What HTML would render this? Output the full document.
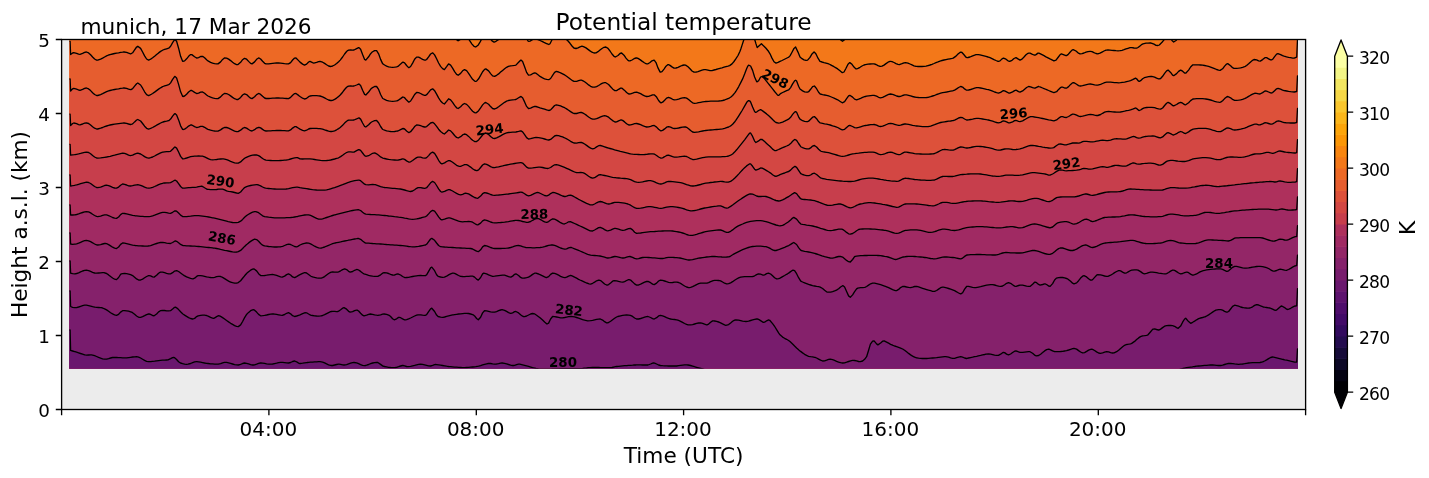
<!DOCTYPE html>
<html lang="en"><head><meta charset="utf-8"><title>Potential temperature</title>
<style>html,body{margin:0;padding:0;background:#fff}body{width:1429px;height:478px;overflow:hidden}</style>
</head><body>
<svg width="1429" height="478" viewBox="0 0 1429 478" style="display:block">
<rect width="1429" height="478" fill="#fff"/>
<defs><clipPath id="dc"><rect x="69.4" y="39.5" width="1228.6" height="328.9"/></clipPath></defs>
<rect x="61.6" y="39.5" width="1244.0" height="370.0" fill="#ececec"/>
<g clip-path="url(#dc)" stroke="#000" stroke-width="1.33" stroke-linejoin="round">
<rect x="63.400000000000006" y="33.5" width="1240.6" height="340.9" fill="#f37819" stroke="none"/>
<path d="M63.4,8L70.1,8L70,20 72,20.7 74,21.4 76,22 78,22.6 80,23.1 82,23.6 84,24 86,24.4 88,24.6 90,24.8 92,24.9 94,24.8 96,24.7 98,24.4 100,24 102,23.5 104,23 106,22.5 108,21.9 110,21.3 112,20.7 114,20.1 116,19.5 118,18.9 120,18.3 122,17.6 124,17 126,16.3 128,15.7 130,15.1 132,14.4 134,13.8 136,13.2 138,12.6 140,12 142,11.4 144,10.9 146,10.3 148,9.8 150,9.2 152,8.7 154,8.2 156,7.7 158,7.3 160,6.8 162,6.4 164,6 166,5.6 168,5.2 170,4.8 172,4.5 174,4.2 175,4 176,4.8 178,10.7 180,18.7 182,24.9 183,26 184,26.2 186,26.5 188,26.8 190,27.1 192,27.4 194,27.6 196,27.8 198,28.1 200,28.2 202,28.4 204,28.6 206,28.7 208,28.8 210,28.9 212,29 214,29 216,29 218,29 220,29 222,29 224,28.9 226,28.9 228,28.9 230,28.8 232,28.8 234,28.8 236,28.7 238,28.7 240,28.7 242,28.6 244,28.6 246,28.6 248,28.5 250,28.5 252,28.5 254,28.4 256,28.4 258,28.3 260,28.3 262,28.2 264,28.2 266,28.2 268,28.1 270,28.1 272,28 274,27.9 276,27.9 278,27.8 280,27.8 282,27.7 284,27.6 286,27.6 288,27.5 290,27.4 292,27.3 294,27.3 296,27.2 298,27.1 300,27 302,26.9 304,26.7 306,26.4 308,26 310,25.6 312,25.1 314,24.6 316,24.1 318,23.5 320,22.9 322,22.2 324,21.5 326,20.9 328,20.2 330,19.5 332,18.8 334,18.1 336,17.5 338,16.8 340,16.2 342,15.6 344,15.1 346,14.6 348,14.2 350,13.8 352,13.5 354,13.3 356,13.1 358,13 360,13 362,13.3 364,14.1 366,15.3 368,16.8 370,18.5 372,20.4 374,22.3 376,24.1 378,25.9 380,27.4 382,28.5 383,29 384,29.4 386,30.1 388,30.7 390,31.2 392,31.6 394,32 396,32.3 398,32.5 400,32.7 402,32.8 404,32.9 406,33 408,33 410,33 412,32.6 414,31.5 416,30 418,28 420,25.8 422,23.7 424,21.6 426,19.8 428,18.4 430,17.7 432,17.7 433,18 434,18.9 436,22.4 438,27 440,31.1 440.6,32 442,33.6 444,35.1 444.4,35.2 446,33.5 448,29.9 448.6,29.5 450,30.1 452,32.7 454,36.1 456,39.3 458,40.8 458.2,40.8 460,39.7 462,37.1 464,35.3 464.5,35.2 466,35.8 468,38 470,41.1 472,44.1 474,46.3 475.7,47 478,45.3 480,42.1 482,38.4 484,35.5 485.8,34.5 488,35.8 490,38.4 492,40.9 494,42.1 494.6,42 496,41.3 498,39.9 500,38.3 502,36.5 504,34.8 506,33.3 508,32.2 508.4,32 510,31.6 512,31.3 514,31.1 515.9,30.7 518,28.7 520,26.3 521,25.7 522,26.3 524,30.9 526,37 528,41 528.5,41.3 530,41.1 532,40 534,38.8 536,38.8 538,39.6 540,40.5 542,41.4 544,42.4 546,43.3 548,44.2 548.8,44.5 550,43.7 552,39.7 553,38 554,36.7 556,34.4 557,34 558,34.1 560,35 562,36.3 563,37 564,37.7 566,39.2 567.6,40.5 570,43.3 572,46 573.9,48 576,48.5 578,47.8 580,46.8 582,46.2 582.7,46.3 584,46.8 586,47.9 588,49.4 590,50.9 592,52.2 594,53 596,52.8 598,51.7 600,50.1 602,48.5 604,47.3 605.8,47 608,48.4 610,51 612,54 614,56.3 615.3,57 618,55.5 620,53.5 621.6,53 624,55.2 626,58.1 628,60.4 629,60.9 630,60.9 632,60 634,58.7 636,58 636.7,58 638,58.4 640,59.6 642,61.1 644,62.5 646,63.7 646.7,63.9 648,63.8 650,62.5 652,60.8 654,60.1 654.2,60.1 656,62.6 658,67.9 660,71.9 660.5,72.2 662,71.6 664,69.1 666,66.2 668,64.6 668.5,64.6 670,65.4 672,66.9 674,68.1 674.3,68.1 676,68 678,67.3 680,66.4 682,65.5 684,65 685.6,65.1 688,66.7 690,68.8 692,71 694,72.1 694.4,72.2 696,72.1 698,71.6 700,70.9 702,70.2 704,69.7 705.7,69.6 708,70.1 710,70.6 712,70.6 714,70 716,69.5 718,68.9 720,68.3 720.8,68.1 722,67.8 724,67.2 726,66.6 728,66.1 729.6,65.6 732,63.9 734,61.5 735.8,58.9 738,55.5 740,51.3 740.9,48.8 742,45.4 743.9,39.5 746,33 747,30 748,27.7 750,27.2 751,29 752,31.6 754,37.4 754.7,39.5 756,43.9 757.2,47.6 760,45.1 761.4,43.8 764,46.2 766,48.3 768,50.7 768.5,51.3 770,53.8 772,58.1 774,61.8 776,63.1 778,62.4 780,61.4 782,60.5 784,59.5 786,58.5 788,57.5 788.8,57.1 790,55.9 792,52.2 794,48.4 795.6,47 798,52.1 800,57.1 802,58.7 804,59.8 806,60.3 807.6,60.1 810,57.4 812,53.9 814,52 814.4,52.1 816,54 818,58.2 820,61.3 820.2,61.4 822,62 824,62.6 826,63.1 828,63.7 830,64.5 830.2,64.6 832,65.6 834,66.7 836,67.9 837.7,68.9 840,70.8 842,72.5 842.3,72.7 844,72 846,68.3 848,64.2 849.8,62.6 852,64.3 854,67.1 856,68.9 856.6,68.9 858,68.4 860,67.3 862,66 864,65 865.4,64.6 868,64.2 870,64 872,63.8 874,63.9 874.1,63.9 876,64.5 878,65.6 880,66.3 880.4,66.4 882,66.2 884,65.1 886,63.6 888,62.2 890,61.4 890.5,61.4 892,61.6 894,62.5 896,63.6 898,64.4 899.3,64.6 902,63.7 904,62.8 905.5,62.6 908,63.2 910,64 912,64.9 914,65.8 916,66.3 916.8,66.4 918,66.5 920,66.5 922,66.5 924,66.4 926,66.1 928,65.6 928.1,65.6 930,65 932,64.3 934,63.5 936,62.6 938,61.9 940,61.1 940.7,60.9 942,60.5 944,60 946,59.6 948,59.2 950,58.8 952,58.4 953.2,58.1 956,56.1 958,54 960,52.4 960.8,52.1 962,52.5 964,54.8 966,57.2 967,57.6 968,57.5 970,57 972,56.1 974,55.3 976,54.7 978,54.6 978.3,54.6 980,54.9 982,55.4 984,55.9 986,56.4 988,57 988.4,57.1 990,57.7 992,58.6 994,59.6 996,60.5 998,61.3 998.4,61.4 1000,60.9 1002,58.9 1003.5,58.1 1006,59.2 1008,60.8 1009.7,61.4 1012,60.3 1014,58.5 1016,57.6 1018,58.9 1020,60.1 1022,59.1 1024,57 1026,54.8 1028,53.3 1028.8,53.1 1030,53.2 1032,54.2 1034,55 1035,55.1 1036,54.6 1038,53.1 1038.8,53.1 1040,53.7 1042,54.7 1044,55.7 1045.1,56.3 1046,56.8 1048,57.8 1050,58.9 1052,59.9 1053.9,60.9 1056,60.2 1058,57.5 1060,54.8 1061.4,53.8 1064,54.8 1066,55.6 1066.4,55.6 1068,54.6 1070,52.2 1072,50.1 1073.2,49.6 1076,51 1078,52.8 1080,53.8 1080.3,53.8 1082,53.6 1084,53 1086,52.2 1088,51.6 1090,51.3 1090.3,51.3 1092,51.7 1094,52.7 1096,53.5 1097.8,53.8 1100,53.2 1102,52.1 1104,51 1106,50.2 1106.6,50.1 1108,50 1110,50.1 1112,50.3 1114,50.5 1116,50.7 1118,50.8 1120,50.7 1120.4,50.6 1122,50.3 1124,49.7 1126,48.9 1128,48.3 1130,47.7 1130.5,47.6 1132,47.6 1134,48 1136,48.2 1136.7,48.1 1138,47.5 1140,45.9 1142,44.3 1143,43.8 1144,43.6 1146,43.2 1148,43.1 1150,43 1150.6,43 1152,43.3 1154,44.2 1156,45.3 1158,45.5 1159.3,45 1162,42.3 1164,39.9 1164.4,39.5 1166,37.9 1168,36.1 1168.1,36 1170,36.9 1172,40.4 1173.7,42 1176,40.5 1178,38 1180,36.2 1180.7,36 1182,36.5 1184,38.4 1185.7,39 1188,37 1190,34.2 1192,31.7 1193.2,31 1196,30.6 1198,30.8 1200,31.2 1202,31.9 1204,32.7 1206,33.6 1208,34.5 1210,35.3 1212,36 1214,36.5 1216,36.6 1218,36.5 1219.6,36 1222,34.3 1224,32.1 1226,30.1 1227.9,29 1230,28.8 1232,29.3 1234,30 1236,30.9 1238,31.8 1240,32.3 1242,32.4 1243.5,32 1246,30.7 1248,29.3 1250,27.8 1252,26.5 1254,25.3 1254.8,25 1256,24.5 1258,23.8 1260,23.1 1262,22.4 1264,21.8 1266,21.2 1268,20.7 1270,20.2 1272,19.8 1274,19.4 1276,19.2 1277.9,19 1280,18.9 1282,18.9 1284,19 1286,19.3 1288,19.6 1290,20 1292,20.4 1294,21 1296,21.6 1297,22L1297.5,5L1304,5V376.4H63.4Z" fill="#ed6925"/>
<path d="M63.4,41.3L70.1,41.3L70.6,54.6 72.6,53 73.8,52.6 76.6,53.3 78.6,54.1 80,54.3 82.6,53.4 84.6,52.4 86.4,52 88.6,52.9 90.6,54.8 92.6,57 94.6,59 96.6,60.1 97.7,60.1 100.6,59.1 102.6,58.1 104.6,57 106.6,55.9 108.6,55 110,54.6 112.6,54 114.6,53.5 116.6,53.1 118.6,52.8 120.6,52.4 122.6,52.2 124,52 126.6,52.4 128.6,53.2 130.6,53.8 131,53.8 132.6,52.8 134.6,49.9 136.6,47 137.8,46.3 140.6,48.4 142.6,52 144.6,55.9 146.6,59 148.6,60.1 149,60 150.6,59.2 152.6,57.8 154.6,56.2 156.6,54.5 158.6,52.9 160.6,51.4 162.6,50.2 163,50 164.6,49.4 166.6,48.8 168.6,48.2 169,48 170.6,46.3 172.6,42.6 174.6,39.7 175,39.5 176.6,41.3 178.6,48.2 180.6,56.3 182.6,61.2 183,61.4 184.6,60.9 186.6,58.8 188.6,56.3 190.6,54.6 191.8,54.6 194.6,56.7 196.6,58 196.8,58 198.6,57.6 200.6,56.5 202.6,56.3 204.6,57.8 206.6,59.8 208,60.9 210.6,62.3 212.6,63.1 214.6,63.6 216.6,63.9 218,63.9 220.6,61.9 222.6,59.4 224.4,58 226.6,58.1 228.6,59.1 230.6,60.6 232.6,62.3 234.6,63.7 236.6,64.6 238,64.6 240.6,62.3 242.6,59.7 244.5,58.3 246.6,59.2 248.6,61.4 250.6,63.4 252,63.9 254.6,61.9 256.6,59.3 258.6,58 259,58 260.6,59 262.6,61.3 264.6,63.3 266,63.9 268.6,63.8 270.6,63.6 272.6,63.4 274.6,63.2 276.6,63 278.4,63 280.6,63.1 282.6,63.3 284.6,63.6 286.6,63.8 288.5,63.9 290.6,62.6 292.6,60 294.6,58.1 296,58 298.6,60.6 300,62.1 302.6,64.1 304.5,65.1 306.6,64.1 308.6,62 310,61.4 312.6,62.7 313.8,63.1 316.6,62.4 318.6,61.6 320,61.4 322.6,62.2 324.6,63.4 326.6,64.8 328.6,66 330.6,66.5 331.4,66.4 332.6,66 334.6,65 336.6,63.5 338.6,61.7 340.2,60.1 342.6,57 344.6,54 346.6,51.5 347.7,50.6 348.6,50.2 350.6,50 352.6,50.1 354,50 356.6,48.7 358.6,47.7 359,47.6 360.6,49.3 362.6,54.6 364.6,59.4 365.8,60.1 368.6,56.8 370.6,53.7 371.6,52.6 372.6,51.8 374.6,50.6 376.6,50.6 378.6,53.8 380.6,59.4 382.6,63.6 382.9,63.9 384.6,65 386.6,66.1 388.6,66.8 390.6,67.2 392.6,67.4 394.6,67.2 396.6,66.8 397.9,66.4 400.6,64.1 402.6,62.3 403,62.1 404.6,62.8 406.6,65.5 408.6,67.6 409.2,67.6 410.6,66.5 412.6,63.1 414.6,59.3 416.6,57.1 416.7,57.1 418.6,57.2 420.6,58.2 422.6,59.4 424.6,60.1 425.5,60.1 426.6,59.5 428.6,56.9 430.6,54 432.6,52.9 433,53.1 434.6,54.9 436.6,58.7 438.6,63 440.6,66.4 442.6,68.6 444.4,69.6 446.6,66.7 448.6,63.9 450.6,65.1 452.6,68.1 454.6,71.6 456.6,74.3 458.2,75.2 460.6,73.4 462.6,70.8 464.5,69.6 466.6,70.7 468.6,73.3 470.6,76.4 472.6,79.3 474.6,81.1 475.7,81.4 476.6,81.1 478.6,78.8 480.6,75.4 482.6,71.8 484.6,69.4 485.8,68.9 488.6,70.9 490.6,73.6 492.6,75.9 494.6,76.4 496.6,75.3 498.6,73.9 500.6,72.1 502.6,70.4 504.6,68.7 506.6,67.3 508.4,66.4 510.6,65.9 512.6,65.7 514.6,65.4 515.9,65.1 518.6,62.3 520.6,60.2 521,60.1 522.6,61.6 524.6,66.7 526.6,72.4 528.5,75.2 530.6,74.9 532.6,73.7 534.6,72.9 536,73.2 538.6,75.3 540,76.4 542.6,77.9 544.6,78.8 546.6,79.4 548.6,79.7 548.8,79.7 550.6,78.5 552.6,75.3 554.6,72.3 556.3,71.4 558.6,72 560.6,72.8 562.6,73.8 564.6,74.9 565.1,75.2 566.6,76.2 568.6,77.7 570.6,79.3 572.6,80.7 573.9,81.4 576.6,81.4 578.6,80.7 580.6,80.1 581.4,80.2 582.6,80.6 584.6,81.8 586.6,83.3 588.6,84.9 590.6,86.3 592.6,87.2 592.7,87.2 594.6,87.2 596.6,86.6 598.6,85.5 600.6,84.2 602.6,83.2 604.6,82.7 605.8,82.7 608.6,84.5 610.6,86.7 612.6,88.9 614.6,90.5 615.3,90.7 616.6,90.6 618.6,89.3 620.6,88.2 621.6,88.2 622.6,88.7 624.6,90.4 626.6,92.5 628.6,93.9 629.1,94 630.6,93.9 632.6,93.2 634.6,92.4 636.6,92.2 636.7,92.2 638.6,92.8 640.6,93.7 642.6,94.8 644.6,95.8 646.6,96.5 646.7,96.5 648.6,96.4 650.6,95.7 652.6,94.9 654.2,94.8 656.6,97.1 658.6,100.5 660.6,102.7 661,102.8 662.6,102.2 664.6,100.2 666.6,98.1 668.5,97.3 670.6,98.1 672.6,99.3 674.3,99.8 676.6,99.6 678.6,99.1 680.6,98.4 682.6,97.9 684.6,97.7 685.6,97.8 686.6,98.1 688.6,99.5 690.6,101.3 692.6,102.8 694.4,103.3 696.6,103.1 698.6,102.7 700.6,102.3 702.6,101.9 704.6,101.6 705.7,101.5 708.6,101.3 710.6,101.2 712.6,101.2 714.6,101.1 716.6,101.1 718.6,101 720.6,100.8 720.8,100.8 722.6,100.5 724.6,100 726.6,99.2 728.6,98.3 729.6,97.8 730.6,97.2 732.6,95.5 734.6,93.1 735.8,91.5 738.6,86.8 740.6,82.9 742.6,78.9 744.6,74 746.6,68.7 747.6,66.4 748.6,65.2 750.6,66 752.6,70.4 754.6,77 756.6,81.6 756.9,81.9 758.6,80.7 760.6,77 762.5,76.3 764.6,78.9 766.6,81.4 768.6,83.9 769.5,85 770.6,86.4 772.6,88.9 774.6,91.5 776.6,93.9 777.6,95.1 778.6,95.4 780.6,93.6 781,93.3 782.6,92.5 784.6,91.6 786.6,90.7 788.6,89.8 788.8,89.7 790.6,87.6 792.6,83.9 794.6,80.8 795.6,80.2 796.6,81.1 798.6,86.3 800,89 802.6,90.9 804.6,91.9 806.6,92.2 807.6,92.2 808.6,91.7 810.6,89.3 812.6,86.7 814.4,86 816.6,88.7 818.6,92.3 820.2,94 822.6,94.6 824.6,95 826.6,95.4 828.6,95.9 830.2,96.5 832.6,97.5 834.6,98.4 836.6,99.3 837.7,99.8 840.6,101.7 842.3,102.8 844.6,101.6 846.6,98.6 848.6,95.9 849.8,95.3 852.6,97.1 854.6,99.1 856.6,99.8 858.6,99.1 860.6,98.3 862.6,97.4 864.6,96.7 865.4,96.5 866.6,96.2 868.6,95.9 870.6,95.6 872.6,95.4 874.1,95.3 876.6,96.1 878.6,97.3 880.4,97.8 882.6,97.4 884.6,96.4 886.6,95.3 888.6,94.4 890.5,94 892.6,94.4 894.6,95.2 896.6,96 898.6,96.5 899.3,96.5 900.6,96.3 902.6,95.5 904.6,94.8 905.5,94.8 906.6,94.9 908.6,95.3 910.6,95.9 912.6,96.5 914.6,97 916.6,97.3 916.8,97.3 918.6,97.5 920.6,97.6 922.6,97.7 924.6,97.7 926.6,97.5 928.1,97.3 930.6,96.7 932.6,96 934.6,95.3 936.6,94.5 938.6,93.8 940.6,93.2 940.7,93.2 942.6,92.7 944.6,92.3 946.6,92 948.6,91.6 950.6,91.2 952.6,90.8 953.2,90.7 954.6,90.1 956.6,88.9 958.6,87.5 960.6,86.5 960.8,86.5 962.6,87.1 964.6,88.9 966.6,90.2 967,90.2 968.6,90 970.6,89.5 972.6,88.8 974.6,88.1 976.6,87.7 978.3,87.7 980.6,88 982.6,88.4 984.6,88.8 986.6,89.3 988.4,89.7 990.6,90.4 992.6,91.2 994.6,92 996.6,92.7 998.4,93.2 1000.6,92.4 1002.6,91 1003.5,90.7 1004.6,90.9 1006.6,91.9 1008.6,93 1009.7,93.2 1012.6,91.9 1014.6,90.6 1016,90.2 1018.6,91.7 1020,92.2 1022.6,90.9 1024.6,89.2 1026.6,87.5 1028.6,86.5 1028.8,86.5 1030.6,86.8 1032.6,87.7 1034.6,88.2 1035,88.2 1036.6,87.4 1038.6,86.4 1038.8,86.5 1040.6,87.2 1042.6,88 1044.6,88.8 1045.1,89 1046.6,89.6 1048.6,90.5 1050.6,91.3 1052.6,92.2 1053.9,92.7 1056.6,91.7 1058.6,89.4 1060.6,87.6 1061.4,87.2 1062.6,87.2 1064.6,88 1066.4,88.2 1068.6,86.6 1070.6,84.4 1072.6,82.8 1073.2,82.7 1074.6,83 1076.6,84.3 1078.6,85.6 1080.3,86 1082.6,85.7 1084.6,85.1 1086.6,84.6 1088.6,84.1 1090.3,84 1092.6,84.3 1094.6,84.8 1096.6,85.2 1097.8,85.2 1100.6,84.4 1102.6,83.5 1104.6,82.7 1106.6,82.2 1108.6,82.1 1110.6,82.2 1112.6,82.4 1114.6,82.6 1116.6,82.7 1118.6,82.8 1120.4,82.7 1122.6,82.4 1124.6,82.1 1126.6,81.6 1128.6,81.2 1130.5,80.7 1132.6,79.7 1134.6,78.6 1135.5,78.2 1136.6,78.8 1138.6,81.2 1139.3,81.4 1140.6,80.7 1142.6,78.8 1144.3,77.7 1146.6,77.1 1148.6,76.7 1150.6,76.5 1151.8,76.4 1154.6,77.1 1156.6,78.1 1158.6,78.8 1159.3,78.9 1160.6,78.5 1162.6,76.3 1164.6,73.4 1166.6,70.9 1168.1,70.1 1170.6,72.4 1172.6,75.1 1173.7,75.7 1176.6,73.6 1178.6,71.4 1180.6,70.1 1180.7,70.1 1182.6,71.2 1184.6,73 1185.7,73.2 1188.6,70.1 1190.6,67 1192.6,65 1193.1,64.9 1194.6,64.8 1196.6,64.8 1198.6,64.8 1200.6,65 1202.6,65.2 1204.6,65.5 1206.3,65.8 1208.6,66.4 1210.6,67.1 1212.6,67.9 1214.6,68.7 1216.6,69.5 1218.6,70.1 1220.1,70.4 1222.6,68.8 1224.6,66.1 1226.6,64 1227.7,63.6 1230.6,65.7 1232.6,67.7 1233.9,68.3 1236.6,68.4 1238.6,68.2 1240.6,67.9 1242.6,67.4 1244.6,66.7 1245.2,66.4 1246.6,65.5 1248.6,63.8 1250.6,61.9 1252.6,60.3 1254,59.5 1256.6,59.9 1258.6,60.9 1260.3,61.1 1262.6,59.6 1264.6,57.9 1265.3,57.6 1266.6,57.7 1268.6,58.8 1270.6,59.9 1271.6,59.9 1272.6,59.3 1274.6,56.6 1276.6,54.1 1277.9,53.6 1280.6,54.6 1282.6,55.6 1284.1,56.1 1286.6,56.8 1288.6,57.3 1290.6,57.7 1292.6,58.1 1294.2,58.2 1296.6,57.1 1296.7,57L1297.5,40L1304,40V376.4H63.4Z" fill="#e65d2f"/>
<path d="M63.4,79L70.1,79L70.6,91 72.6,88.8 73.8,88.3 76.6,89.1 78.6,90 80,90.3 82.6,89.4 84.6,88.4 86.4,88 88.6,88.9 90.6,90.6 92.6,92.7 94.6,94.5 96.6,95.5 97.7,95.5 100.6,94.6 102.6,93.7 104.6,92.7 106.6,91.7 108.6,90.9 110,90.5 112.6,89.9 114.6,89.5 116.6,89.1 118.6,88.8 120.6,88.4 122.6,88.2 124,88 126.6,88.4 128.6,89.1 130.6,89.6 131,89.6 132.6,88.7 134.6,86.1 136.6,83.7 137.8,83 140.6,85 142.6,88.2 144.6,91.8 146.6,94.6 148.6,95.6 149,95.5 150.6,94.7 152.6,93.5 154.6,92.1 156.6,90.6 158.6,89.1 160.6,87.8 162.6,86.7 163,86.5 164.6,85.9 166.6,85.3 168.6,84.7 169,84.5 170.6,82.9 172.6,79.4 174.6,76.6 175,76.4 176.6,78 178.6,84.4 180.6,91.8 182.6,96.3 183,96.5 184.6,96 186.6,94.2 188.6,92 190.6,90.5 191.8,90.5 194.6,92.4 196.6,93.5 196.8,93.5 198.6,93.1 200.6,92.1 202.6,92 204.6,93.3 206.6,95 208,96 210.6,97.2 212.6,97.9 214.6,98.3 216.6,98.6 218,98.6 220.6,96.9 222.6,94.7 224.4,93.5 226.6,93.6 228.6,94.5 230.6,95.9 232.6,97.4 234.6,98.7 236.6,99.5 238,99.5 240.6,97.4 242.6,95 244.5,93.8 246.6,94.6 248.6,96.5 250.6,98.2 252,98.6 254.6,96.8 256.6,94.6 258.6,93.5 259,93.5 260.6,94.4 262.6,96.3 264.6,98 266,98.5 268.6,98.5 270.6,98.3 272.6,98.2 274.6,98.1 276.6,98 278.4,98 280.6,98.1 282.6,98.2 284.6,98.4 286.6,98.5 288.5,98.6 290.6,97.4 292.6,95.2 294.6,93.6 296,93.5 298.6,95.4 300,96.5 302.6,98.2 304.5,99 306.6,98.3 308.6,96.7 310,96 312.6,95.7 314.6,95.6 316.6,95.7 318.6,95.8 320,96 322.6,96.8 324.6,97.9 326.6,99 328.6,100 330.6,100.5 331.4,100.5 332.6,100.3 334.6,99.4 336.6,98.1 338.6,96.4 340.2,95 342.6,92.2 344.6,89.5 346.6,87.3 347.7,86.5 348.6,86.2 350.6,86 352.6,86.1 354,86 356.6,85 358.6,84.1 359,84 360.6,85.5 362.6,90.2 364.6,94.4 365.8,95 368.6,92 370.6,89.3 371.6,88.3 372.6,87.6 374.6,86.5 376.6,86.5 378.6,89.4 380.6,94.5 382.6,98.3 382.9,98.5 384.6,99.4 386.6,100.3 388.6,100.9 390.6,101.2 392.6,101.3 394.6,101.2 396.6,100.9 397.9,100.5 400.6,98.6 402.6,97.1 403,97 404.6,97.7 406.6,100.1 408.6,102 409.2,102 410.6,101 412.6,97.9 414.6,94.5 416.6,92.5 416.7,92.5 418.6,92.6 420.6,93.5 422.6,94.6 424.6,95.3 425.5,95.3 426.6,94.7 428.6,92.4 430.6,89.8 432.6,88.8 433,89 434.6,90.7 436.6,94.1 438.6,97.9 440.6,101 442.6,103 444.4,104 446.6,101.4 448.6,98.8 450.6,99.8 452.6,102.4 454.6,105.4 456.6,107.8 458.2,108.5 460.6,106.8 462.6,104.6 464.5,103.5 466.6,104.4 468.6,106.4 470.6,108.9 472.6,111.2 474.6,112.6 475.7,112.8 476.6,112.5 478.6,110.7 480.6,107.8 482.6,104.9 484.6,102.9 485.8,102.5 488.6,104.2 490.6,106.6 492.6,108.5 494.6,109 496.6,108.1 498.6,106.8 500.6,105.3 502.6,103.8 504.6,102.3 506.6,101.2 508.4,100.5 510.6,100.1 512.6,99.9 514.6,99.7 515.9,99.5 518.6,97.8 520.6,96.6 521,96.5 522.6,97.7 524.6,101.9 526.6,106.4 528.5,108.5 530.6,108.1 532.6,107.1 534.6,106.4 536,106.5 538.6,107.3 540,107.8 542.6,108.6 544.6,109.2 546.6,109.9 548.6,110.4 548.8,110.5 550.6,109.9 552.6,107.7 554.6,105.5 556.3,104.8 558.6,105.3 560.6,105.9 562.6,106.8 564.6,107.7 565.1,108 566.6,108.9 568.6,110.2 570.6,111.6 572.6,112.9 573.9,113.5 576.6,113.5 578.6,112.9 580.6,112.4 581.4,112.5 582.6,112.9 584.6,114 586.6,115.4 588.6,117 590.6,118.3 592.6,119.1 592.7,119.1 594.6,119.2 596.6,118.7 598.6,117.8 600.6,116.9 602.6,116.1 604.6,115.7 605.8,115.8 608.6,117.2 610.6,118.9 612.6,120.6 614.6,121.8 615.3,122 616.6,121.9 618.6,120.9 620.6,120 621.6,120 622.6,120.4 624.6,121.9 626.6,123.7 628.6,124.9 629.1,125 630.6,124.9 632.6,124.3 634.6,123.7 636.6,123.5 636.7,123.5 638.6,124 640.6,124.7 642.6,125.6 644.6,126.4 646.6,127 646.7,127 648.6,126.9 650.6,126.3 652.6,125.6 654.2,125.5 656.6,127.1 658.6,129.3 660.6,130.8 661,130.9 662.6,130.4 664.6,128.9 666.6,127.2 668.5,126.6 670.6,127.2 672.6,128.1 674.3,128.5 676.6,128.4 678.6,128 680.6,127.5 682.6,127.1 684.6,126.9 685.6,127 686.6,127.3 688.6,128.7 690.6,130.5 692.6,132 694.4,132.4 696.6,132.1 698.6,131.8 700.6,131.4 702.6,131 704.6,130.6 705.7,130.5 708.6,130.2 710.6,130 712.6,129.9 714.6,129.7 716.6,129.5 718.6,129.3 720.6,129.1 720.8,129.1 722.6,128.8 724.6,128.4 726.6,127.7 728.6,127 729.6,126.5 730.6,125.9 732.6,124.3 734.6,122 735.8,120.4 738.6,116.1 740.6,112.9 742.1,110.5 744.6,106.2 746.6,102.6 747.1,101.8 748.6,100.6 749.6,100.8 750.6,102 752.6,106.9 754.6,111.5 755.4,112.3 756.6,112.1 758.6,110.5 760.6,109.6 761,109.8 762.6,110.9 764.6,112.4 766.6,113.9 768.5,115.5 770.6,117.5 772.6,119.5 774.6,121.4 776,122.5 778.6,123.1 780,122.9 782.6,122.1 784.6,121.2 786.6,120.2 788.6,119.1 788.8,119 790.6,117.3 792.6,114.4 794.6,112.1 795.6,111.6 796.6,112.3 798.6,116.8 800,119.1 802.6,120.7 804.6,121.4 806.6,121.7 807.6,121.6 808.6,121.2 810.6,119.2 812.6,117.2 814.4,116.6 816.6,118.7 818.6,121.6 820.2,122.9 822.6,123.4 824.6,123.8 826.6,124.1 828.6,124.6 830.2,125 832.6,125.8 834.6,126.4 836.6,127.1 837.7,127.5 840.6,129.1 842.3,129.9 844.6,129.3 846.6,127.4 848.6,125.7 849.8,125.4 852.6,126.5 854.6,127.6 856.6,127.9 858.6,127.4 860.6,126.8 862.6,126.2 864.6,125.7 865.4,125.5 866.6,125.3 868.6,125 870.6,124.7 872.6,124.6 874.1,124.5 876.6,125.1 878.6,126.1 880.4,126.5 882.6,126.2 884.6,125.4 886.6,124.5 888.6,123.7 890.5,123.4 892.6,123.7 894.6,124.3 896.6,124.9 898.6,125.3 899.3,125.3 900.6,125.1 902.6,124.5 904.6,124 905.5,124 906.6,124.1 908.6,124.4 910.6,124.8 912.6,125.3 914.6,125.7 916.6,126 916.8,126 918.6,126.2 920.6,126.4 922.6,126.6 924.6,126.7 926.6,126.7 928.1,126.6 930.6,126.1 932.6,125.4 934.6,124.7 936.6,123.8 938.6,123.1 940.6,122.5 940.7,122.5 942.6,122.1 944.6,121.8 946.6,121.5 948.6,121.2 950.6,121 952.6,120.6 953.2,120.5 954.6,120.1 956.6,119.1 958.6,118 960.6,117.3 960.8,117.3 962.6,117.7 964.6,119 966.6,120 967,120 968.6,119.9 970.6,119.5 972.6,119.1 974.6,118.6 976.6,118.4 978.3,118.4 980.6,118.7 982.6,119 984.6,119.3 986.6,119.7 988.4,120 990.6,120.6 992.6,121.2 994.6,121.9 996.6,122.5 998.4,122.9 1000.6,122.3 1002.6,121.2 1003.5,121 1004.6,121.1 1006.6,121.9 1008.6,122.8 1009.7,122.9 1012.6,121.8 1014.6,120.7 1016,120.4 1018.6,121.3 1020,121.6 1022.6,120.8 1024.6,119.7 1026.6,118.5 1028.6,117.4 1030.6,116.7 1032.5,116.6 1034.6,117 1036.6,117.3 1038.6,117.7 1040.6,118.1 1042.6,118.5 1044.6,118.9 1045,119 1046.6,119.3 1048.6,119.8 1050.6,120.2 1052.6,120.6 1053.9,120.9 1056.6,119.9 1058.6,118.3 1060.6,116.9 1061.4,116.6 1062.6,116.6 1064.6,117.3 1066.4,117.5 1068.6,116.5 1070.6,115.2 1072.6,114.2 1073.2,114.1 1074.6,114.3 1076.6,115.2 1078.6,116.2 1080.3,116.5 1082.6,116.2 1084.6,115.7 1086.6,115.1 1088.6,114.7 1090.3,114.5 1092.6,114.7 1094.6,115.2 1096.6,115.5 1097.8,115.5 1100.6,114.5 1102.6,113.3 1104.6,112.2 1106.6,111.6 1108.6,111.5 1110.6,111.6 1112.6,111.8 1114.6,112 1116.6,112.2 1118.6,112.2 1120.4,112 1122.6,111.6 1124.6,111.2 1126.6,110.7 1128.6,110.3 1130.5,109.8 1132.6,109.1 1134.6,108.3 1135.5,108 1136.6,108.4 1138.6,110.3 1139.3,110.5 1140.6,110 1142.6,108.6 1144.3,107.8 1146.6,107.5 1148.6,107.4 1150.6,107.3 1151.8,107.3 1154.6,107.7 1156.6,108.3 1158.6,108.8 1160.6,109.1 1162.6,108 1164.6,105.5 1166.6,103.2 1168.1,102.3 1170.6,103.7 1172.6,105.5 1173.7,105.8 1176.6,104.5 1178.6,103.1 1180.6,102.3 1180.7,102.3 1182.6,103.2 1184.6,104.6 1185.7,104.8 1188.6,102.7 1190.6,100.6 1192.6,99.2 1193.2,99 1194.6,98.8 1196.6,98.7 1198.6,98.6 1200.6,98.7 1202.6,98.7 1204.6,98.9 1205.8,99 1208.6,99.5 1210.6,100 1212.6,100.7 1214.6,101.3 1216.6,101.8 1218.6,102.2 1219.6,102.3 1220.6,102.1 1222.6,100.7 1224.6,98.6 1226.6,96.9 1227.9,96.5 1230.6,97.8 1232.6,99.4 1234.6,100.3 1234.7,100.3 1236.6,100.3 1238.6,100.1 1240.6,99.8 1242.6,99.3 1243.5,99 1244.6,98.6 1246.6,97.6 1248.6,96.4 1250.6,95.2 1252.6,94.1 1254.6,93.3 1254.8,93.2 1256.6,93.3 1258.6,93.9 1260,94 1262.6,92.6 1264.6,91.2 1265.3,91 1266.6,91.1 1268.6,92 1270.6,92.9 1271.6,93 1272.6,92.6 1274.6,90.7 1276.6,88.8 1278,88.4 1280.6,89.2 1282.6,90.1 1284.1,90.5 1286.6,91 1288.6,91.4 1290.6,91.7 1292.6,91.9 1294.2,92 1296.6,91.5 1296.7,91.5L1297.5,75.8L1304,75.8V376.4H63.4Z" fill="#dd513a"/>
<path d="M63.4,114.2L70.1,114.2L70.6,125.5 72.6,123.5 73.8,123 76.6,123.7 78.6,124.6 80,124.8 82.6,124 84.6,123.1 86.4,122.8 88.6,123.5 90.6,125 92.6,126.7 94.6,128.2 96.6,129 97.7,129 100.6,128.2 102.6,127.5 104.6,126.7 106.6,126 108.6,125.3 110,125 112.6,124.5 114.6,124.2 116.6,123.9 118.6,123.6 120.6,123.3 122.6,123.1 124,123 126.6,123.4 128.6,124 130.6,124.5 131,124.5 132.6,123.9 134.6,121.9 136.6,120 137.8,119.5 140.6,121 142.6,123.5 144.6,126.2 146.6,128.3 148.6,129.1 149,129 150.6,128.4 152.6,127.5 154.6,126.4 156.6,125.2 158.6,124.1 160.6,123 162.6,122.1 163,122 164.6,121.5 166.6,121.1 168.6,120.6 169,120.5 170.6,119.1 172.6,116.1 174.6,113.8 175,113.6 176.6,114.9 178.6,119.9 180.6,125.8 182.6,129.3 183,129.5 184.6,129.1 186.6,127.7 188.6,126.1 190.6,125 191.8,125 194.6,126.6 196.6,127.5 196.8,127.5 198.6,127.2 200.6,126.4 202.6,126.3 204.6,127.3 206.6,128.6 208,129.3 210.6,130.2 212.6,130.7 214.6,131 216.6,131.2 218,131.2 220.6,129.9 222.6,128.4 224.4,127.5 226.6,127.5 228.6,128.2 230.6,129.2 232.6,130.2 234.6,131.1 236.6,131.7 238,131.7 240.6,130.2 242.6,128.4 244.5,127.5 246.6,128.1 248.6,129.5 250.6,130.7 252,131 254.6,129.7 256.6,128.1 258.6,127.3 259,127.3 260.6,127.9 262.6,129.4 264.6,130.7 266,131 268.6,130.9 270.6,130.8 272.6,130.7 274.6,130.6 276.6,130.5 278.4,130.5 280.6,130.5 282.6,130.6 284.6,130.7 286.6,130.8 288.5,130.8 290.6,129.9 292.6,128.1 294.6,126.7 296,126.6 298.6,128.2 300,129.1 302.6,130.3 304.5,130.8 306.6,130.2 308.6,129 310,128.5 312.6,128.4 314.6,128.4 316.6,128.4 318.6,128.6 320,128.7 322.6,129.2 324.6,129.9 326.6,130.5 328.6,131.1 330.6,131.5 331.4,131.5 332.6,131.4 334.6,130.8 336.6,129.8 338.6,128.6 340.2,127.5 342.6,125.3 344.6,123.1 346.6,121.2 347.7,120.5 348.6,120.2 350.6,120.1 352.6,120.1 354,120 356.6,118.9 358.6,118 359,117.9 360.6,119.1 362.6,123 364.6,126.5 365.8,127 368.6,124.8 370.6,122.7 371.6,122 372.6,121.5 374.6,120.6 376.6,120.5 378.6,122.7 380.6,126.5 382.6,129.3 382.9,129.5 384.6,130.2 386.6,130.8 388.6,131.2 390.6,131.5 392.6,131.6 394.6,131.5 396.6,131.2 397.9,131 400.6,129.6 402.6,128.6 403,128.5 404.6,129 406.6,131 408.6,132.5 409.2,132.5 410.6,131.7 412.6,129.3 414.6,126.6 416.6,125 416.7,125 418.6,125.1 420.6,125.7 422.6,126.5 424.6,127 425.5,127 426.6,126.6 428.6,124.8 430.6,123 432.6,122.4 433,122.5 434.6,123.8 436.6,126.3 438.6,129.2 440.6,131.5 442.6,133.1 444.4,134 446.6,132 448.6,130 450.6,130.9 452.6,133 454.6,135.5 456.6,137.4 458.2,138 460.6,136.7 462.6,134.9 464.5,134 466.6,134.7 468.6,136.4 470.6,138.4 472.6,140.3 474.6,141.5 475.7,141.7 476.6,141.5 478.6,139.9 480.6,137.5 482.6,135 484.6,133.3 485.8,133 488.6,134.5 490.6,136.4 492.6,138.1 494.6,138.5 496.6,137.9 498.6,136.9 500.6,135.8 502.6,134.7 504.6,133.7 506.6,132.9 508.4,132.5 510.6,132.3 512.6,132.2 514.6,132.1 515.9,132 518.6,131.4 520.6,130.9 521,130.9 522.6,131.8 524.6,134.6 526.6,137.6 528.5,139 530.6,138.7 532.6,138.1 534.6,137.6 536,137.5 538.6,137.7 540,137.9 542.6,138.4 544.6,139 546.6,139.6 548.6,140 548.8,140 550.6,139.4 552.6,137.7 554.6,136 556.3,135.4 558.6,135.7 560.6,136.3 562.6,136.9 564.6,137.8 565.1,138 566.6,138.8 568.6,140 570.6,141.3 572.6,142.4 573.9,143 576.6,143.2 578.6,142.7 580.6,142.4 581.4,142.5 582.6,142.9 584.6,144 586.6,145.4 588.6,146.9 590.6,148.1 592.6,148.8 592.7,148.8 594.6,148.3 596.6,146.9 598.6,145.7 600.3,145.5 602.6,146.2 604.6,146.8 606.6,147.5 608.6,148.1 610,148.5 612.6,149.2 614.6,149.8 616.6,150.3 618.6,150.8 620.3,151.3 622.6,151.9 624.6,152.4 626.6,152.9 628.6,153.4 629,153.5 630.6,153.8 632.6,154.1 634.6,154.3 636.6,154.4 638.6,154.5 640.4,154.6 642.6,154.6 644.6,154.5 646.6,154.3 648.6,154 650.6,153.9 652.6,153.8 653,153.8 654.6,154.2 656.6,155.5 658.6,157 660.6,158 661,158.1 662.6,157.8 664.6,156.7 666.6,155.5 668.5,155.1 670.6,155.8 672.6,156.6 674.3,157.1 676.6,157.1 678.6,156.9 680.6,156.6 682.6,156.3 684.6,156.2 685.6,156.3 686.6,156.5 688.6,157.5 690.6,158.7 692.6,159.5 693.7,159.6 696.6,159.2 698.6,158.7 700.6,158.2 702.6,157.7 704.6,157.3 705.7,157.1 708.6,156.9 710.6,156.8 712.6,156.8 714.6,156.8 716.6,156.8 718.6,156.8 720.6,156.8 722.6,156.7 724.6,156.6 726.6,156.4 727,156.3 728.6,156 730.6,155.2 732.6,154 734.6,152.1 736.6,149.8 738.6,147.3 740.6,144.8 742.6,142.3 743.4,141.3 744.6,139.8 746.6,137.1 748.6,134.4 749.6,133.2 750.6,133 752.6,136.4 754.6,141.1 755.9,142.5 758.6,140.9 760.6,139.3 762.2,139.5 764.6,141.6 766.6,143.4 768.6,145.2 769,145.5 770.6,147 772.6,149.1 774.6,150.5 776,150.6 778.6,149.5 780,148.8 782.6,147.7 784.6,146.8 786.6,146 788.6,145.1 788.8,145 790.6,143.6 792.6,141.3 794.6,139.6 795,139.5 796.6,140.4 798.6,143.5 800.6,146.4 801.3,147 802.6,147.6 804.6,148.3 806.6,148.8 808.6,148.8 808.9,148.8 810.6,147.9 812.6,146.1 814.4,145.5 816.6,147 818.6,149.2 820.6,151 821.4,151.3 822.6,151.6 824.6,152 826.6,152.3 828.6,152.7 830.2,153.1 832.6,153.8 834.6,154.4 836.6,155 838.6,155.6 840.6,156.1 842.3,156.3 844.6,156.2 846.6,155.7 848.6,155 850.6,154.3 852.6,153.8 852.8,153.8 854.6,153.6 856.6,153.3 858.6,153.1 860.6,152.8 862.6,152.6 862.9,152.6 864.6,152.4 866.6,152.3 868.6,152.2 870.6,152.1 872.6,152.1 872.9,152.1 874.6,152.4 876.6,153.2 878.6,154.1 880.4,154.6 882.6,154.4 884.6,153.8 886.6,153 888.6,152.4 890.5,152.1 892.6,152.5 894.6,153.3 896.6,154.1 898.6,154.6 899.3,154.6 900.6,154.3 902.6,153.1 904.6,152.2 905.5,152.1 906.6,152.2 908.6,152.5 910.6,152.8 912.6,153.2 914.6,153.6 916.6,153.8 916.8,153.8 918.6,153.9 920.6,154 922.6,154.1 924.6,154.1 926.6,154.1 928.6,154.1 930.6,154 932.6,153.9 933.2,153.8 934.6,153.5 936.6,152.7 938.6,151.6 940.6,150.5 942.6,149.7 943.2,149.6 944.6,149.5 946.6,149.6 948.6,149.9 950.6,150.1 952.6,150.2 953.2,150.1 954.6,149.7 956.6,148.7 958.6,147.6 960.6,147 960.8,147 962.6,147.2 964.6,147.7 966.6,148 967,148 968.6,147.8 970.6,147.5 972.6,147 974.6,146.6 976.6,146.3 978.3,146.3 980.6,146.5 982.6,146.7 984.6,147 986.6,147.3 988.4,147.6 990.6,148.1 992.6,148.7 994.6,149.3 996.6,149.8 998.4,150.1 1000.6,150 1002.6,149.5 1004.6,149 1006,148.8 1008.6,148.9 1010.6,149.2 1012.6,149.5 1014.6,149.6 1016,149.5 1018.6,149.1 1020,148.8 1022.6,148.1 1024.6,147.3 1026.6,146.6 1028.6,145.9 1030.6,145.5 1032.5,145.5 1034.6,145.7 1036.6,146 1038.6,146.4 1040.6,146.7 1042.6,147.1 1044.6,147.4 1045,147.5 1046.6,147.7 1048.6,148 1050,148.2 1052.6,147.9 1053.8,147.6 1056.6,145.5 1058.6,144.2 1058.8,144.1 1060.6,144 1062.6,144.4 1064.6,144.8 1066.3,144.8 1068.6,144.2 1070.6,143.6 1072.6,143 1073.8,142.8 1076.6,143 1078.6,143.2 1078.9,143.2 1080.6,142.6 1082.6,141.7 1083.9,141.3 1086.6,141.4 1088.6,141.6 1090.6,141.9 1092.6,141.9 1092.7,141.9 1094.6,141.6 1096.6,141.2 1098.6,140.8 1100.6,140.4 1102.6,140.1 1102.7,140.1 1104.6,140.3 1106.6,140.7 1107.7,140.7 1110.6,140.1 1112.6,139.4 1114.6,138.9 1115.2,138.8 1116.6,138.7 1118.6,138.8 1120.6,138.9 1122.6,139.1 1124.6,139.1 1125.3,139.1 1126.6,138.9 1128.6,138.1 1130.6,137.3 1132.6,136.6 1133.4,136.5 1134.6,136.7 1136.6,137.7 1138.5,138.2 1140.6,137.8 1142.6,137.2 1144.6,136.6 1145.4,136.5 1146.6,136.4 1148.6,136.2 1150.6,136.1 1152.6,136 1152.9,136 1154.6,136.2 1156.6,136.8 1158.6,137.5 1160.4,137.8 1162.6,136.9 1164.6,135 1166.6,133.2 1168.1,132.6 1170.6,133.6 1172.6,134.8 1173.7,135 1176.6,133.7 1178.6,132.3 1180.6,131.5 1180.7,131.5 1182.6,132.2 1184.6,133.4 1185.7,133.5 1188.6,131.9 1190.6,130.4 1192.6,129.3 1193.2,129.1 1194.6,128.9 1196.6,128.6 1198.6,128.4 1200.6,128.3 1202.6,128.3 1204.6,128.3 1205.8,128.4 1208.6,128.9 1210.6,129.4 1212.6,130.1 1214.6,130.7 1216.6,131.3 1218.6,131.6 1219.6,131.7 1220.6,131.6 1222.6,130.6 1224.6,129.3 1226.6,128.2 1227.9,127.9 1230.6,128.7 1232.6,129.6 1234.6,130 1234.7,130 1236.6,129.8 1238.6,129.5 1240.6,129.1 1242.6,128.6 1243.5,128.4 1244.6,128.1 1246.6,127.3 1248.6,126.4 1250.6,125.6 1252.6,124.8 1254.6,124.2 1254.8,124.1 1256.6,124.2 1258.6,124.8 1260,124.9 1262.6,123.8 1264.6,122.8 1265,122.7 1266.6,122.8 1268.6,123.5 1270.6,124.2 1271.6,124.2 1272.6,123.9 1274.6,122.7 1276.6,121.4 1278.5,120.9 1280.6,121.4 1282.6,122.2 1284.1,122.5 1286.6,122.8 1288.6,122.9 1290.6,123 1292.6,123 1294.6,123 1295.2,122.9 1296.6,122.5 1296.7,122.5L1297.5,108.5L1304,108.5V376.4H63.4Z" fill="#d34743"/>
<path d="M63.4,144.3L70.1,144.3L70.6,155.1 72.6,154.9 74.6,154.7 75,154.6 76.6,154.3 78.6,153.9 80.6,153.4 82.6,152.8 84.6,152.4 86.4,152.1 88.6,152.5 90.6,153.8 92.6,155.5 94.6,157 96.6,158 97.7,158.1 100.6,157.9 102.6,157.6 104.6,157.3 106.6,157 108.6,156.6 110.2,156.3 112.6,155.7 114.6,155.2 116.6,154.6 118.6,154.1 120.6,153.6 122.6,153.1 122.8,153.1 124.6,153.3 126.6,154.2 128.6,155.2 130.3,155.6 132.6,155.1 134.6,154.1 136.6,153.3 137.8,153.1 140.6,154 142.6,155.2 144.6,156.6 146.6,157.7 148.6,158.2 149.1,158.1 150.6,157.7 152.6,157 154.6,156 156.6,154.9 158.6,153.9 160.6,152.9 162.6,152.2 162.9,152.1 164.6,151.8 166.6,151.6 168.6,151.6 170.5,151.3 172.6,149.3 174.6,147.1 175,147 176.6,148.1 178.6,152 180.6,156.4 182.6,158.8 183,158.9 184.6,158.6 186.6,158 188.6,157.3 190.6,156.7 192.6,156.3 193,156.3 194.6,156.2 196.6,156.1 198.6,156 200.6,156.1 202.6,156.2 203.1,156.3 204.6,156.8 206.6,157.8 208.6,158.9 210.6,159.6 212.6,159.8 214.6,159.7 216.6,159.5 218.6,159.2 220.6,159 222.6,158.9 223.2,158.9 224.6,159.1 226.6,159.6 228.6,160.4 230.6,161.3 232.6,162.1 234.6,162.8 236.6,163.1 238.3,163.1 240.6,161.9 242.6,160.1 244.6,158.3 245.8,157.6 248.6,156.4 250.6,155.7 252.6,155.2 254.6,155 256.6,155 257.1,155.1 258.6,155.6 260.6,156.9 262.6,158.5 264.6,159.7 265.9,160.1 268.6,160.4 270.6,160.5 272.6,160.6 274.6,160.7 276.6,160.7 278.6,160.6 280.6,160.5 282.6,160.4 284.6,160.2 286,160.1 288.6,159.6 290.6,159 292.6,158.4 294.6,157.9 296.6,157.6 297.3,157.6 298.6,158.2 300,158.9 302.6,159 304.6,158.9 306.6,158.8 308.6,158.8 310,158.9 312.6,159.2 314.6,159.5 316.6,159.8 318.6,160.1 320.6,160.4 322.6,160.6 324.6,160.6 326.6,160.5 328.6,160.3 330.6,160 332.6,159.5 334.6,159 336.6,158.4 337.7,158.1 338.6,157.8 340.6,156.6 342.6,155.2 344.6,153.7 346.6,152.5 347.7,152.1 348.6,151.9 350.6,151.9 352.6,152.1 354,152.1 356.6,150.7 358.6,149.7 359,149.6 360.6,150.4 362.6,153 364.6,155.6 365.8,156.3 368.6,155.7 370.6,154.5 372.6,153.3 374.6,152.9 375.3,153.1 376.6,153.8 378.6,155.3 380.6,156.9 382.6,158 382.9,158.1 384.6,158.5 386.6,159 388.6,159.4 390.6,159.7 392.6,159.9 394.6,160 396.6,160.1 397.9,160.1 400.6,159.5 402.6,158.9 403,158.9 404.6,159.4 406.6,160.9 408.6,162 409.2,162.1 410.6,161.8 412.6,160.5 414.6,159 416.6,157.6 418,157.1 420.6,157.2 422.6,157.8 424.6,158.1 425.5,158.1 426.6,157.6 428.6,155.6 430.6,153.3 432.6,152.1 434.6,153.4 436.6,156.6 438.6,160.3 440.6,163.1 441.9,163.9 444.6,162.9 446.6,161.5 448.6,160.6 449.4,160.6 450.6,161 452.6,162.3 454.6,163.8 456.6,165.3 458.6,166.2 459.4,166.4 460.6,166.3 462.6,165.5 464.6,164.7 465.7,164.6 466.6,164.7 468.6,165.7 470.6,167.1 472.6,168.7 474.6,170 476.6,170.7 477,170.7 478.6,169.9 480.6,167.5 482.6,165 484.5,163.9 486.6,164.4 488.6,165.4 490.6,166.6 492.6,167.5 494.6,167.6 496.6,167.2 498.6,166.8 500.6,166.3 502.6,165.9 504.6,165.4 506.6,165 508.4,164.6 510.6,164.2 512.6,163.8 514.6,163.5 516.6,163.2 518.6,162.9 520.6,162.6 521,162.6 522.6,163.1 524.6,165 526.6,167.1 528.5,168.1 530.6,168.1 532.6,167.9 534.6,167.6 536.6,167.3 538.6,167.1 540,167.1 542.6,167.5 544.6,168 546.6,168.4 548,168.5 550.6,167.5 552.6,166 554.6,164.8 556.3,164.6 558.6,165.2 560.6,165.8 562.6,166.6 564.6,167.4 565.1,167.6 566.6,168.3 568.6,169.2 570.6,170.2 572.6,171.1 574.6,172 575.1,172.2 576.6,172.6 578.6,172.6 580.6,172.5 582.6,172.7 582.7,172.7 584.6,173.4 586.6,174.7 588.6,176.2 590.6,177.5 592.6,178.2 592.7,178.2 594.6,177.7 596.6,176.4 598.6,175 600.3,174.7 602.6,175.1 604.6,175.5 606.6,175.9 608.6,176.4 610.6,176.9 612.6,177.3 614.6,177.6 615.3,177.7 616.6,177.9 618.6,178 620.6,178.2 622.6,178.3 624.6,178.5 626.6,178.7 627.9,178.9 630.6,179.7 632.6,180.7 634.6,181.6 636.6,182.2 636.7,182.2 638.6,182.4 640.6,182.2 642.6,181.9 644.6,181.4 646.6,181 648.6,180.7 650.5,180.7 652.6,181.1 654.6,181.9 656.6,182.8 658.6,183.6 660.6,184 661,184 662.6,183.7 664.6,182.8 666.6,181.8 668.5,181.4 670.6,181.5 672.6,181.6 674.6,181.8 676.6,182.1 678.6,182.4 680.6,182.7 682.6,183.2 684.6,183.8 686.6,184.6 688.6,185.2 690.6,185.8 692.6,186 693.2,186 694.6,185.9 696.6,185.5 698.6,185 700.6,184.5 702.6,183.9 704.6,183.4 705.7,183.2 708.6,182.8 710.6,182.5 712.6,182.3 714.6,182 716.6,181.8 718.6,181.6 720.6,181.4 720.8,181.4 722.6,181.5 724.6,181.9 726.6,182.2 728.3,182.2 730.6,181.4 732.6,180 734.6,178.2 736.6,176.2 738.6,174.1 740.6,171.9 742.6,169.7 743.4,168.9 744.6,167.7 746.6,165.9 748.6,164.5 749.6,163.9 750.6,163.9 752.6,166.3 754.6,169.2 755.9,170.1 758.6,169.1 760.6,168 762.2,168.1 764.6,169.4 766.6,170.6 768.6,171.8 769,172 770.6,173.1 772.6,174.7 774.6,176 776,176.4 778.6,175.4 780,174.7 782.6,173.7 784.6,173 786.6,172.2 788.6,171.5 788.8,171.4 790.6,170.1 792.6,168 794.6,166.5 795,166.4 796.6,167.3 798.6,170.4 800.6,173.4 801.3,173.9 802.6,174.5 804.6,175.2 806.6,175.6 808.6,175.7 808.9,175.7 810.6,175 812.6,173.6 814.4,173.2 816.6,174.5 818.6,176.3 820.6,177.9 821.4,178.2 822.6,178.5 824.6,178.9 826.6,179.3 828.6,179.6 830.6,179.9 832.6,180.2 832.7,180.2 834.6,180.4 836.6,180.6 838.6,180.8 840.6,181 842.6,181.2 844.6,181.3 846.6,181.4 848.6,181.5 850.6,181.5 852.6,181.4 852.8,181.4 854.6,181.2 856.6,180.6 858.6,180 860.6,179.4 862.6,178.9 862.9,178.9 864.6,178.6 866.6,178.4 868.6,178.2 870.6,178.1 872.6,178.2 872.9,178.2 874.6,178.4 876.6,178.7 878.6,179 880.6,179.4 882.6,179.7 884.6,180.1 885.5,180.2 886.6,180.4 888.6,180.6 890.6,180.9 892.6,181.1 894.6,181.2 896.6,181.4 896.7,181.4 898.6,181.1 900.6,180.1 902.6,179 904.6,178.3 905.5,178.2 906.6,178.3 908.6,178.5 910.6,178.8 912.6,179.1 914.6,179.5 916.6,179.7 916.8,179.7 918.6,179.8 920.6,180 922.6,180.1 924.6,180.2 926.6,180.3 928.6,180.3 930.6,180.3 932.6,180.2 933.2,180.2 934.6,180 936.6,179.2 938.6,178.2 940.6,177.2 942.6,176.5 943.2,176.4 944.6,176.3 946.6,176.3 948.6,176.5 950.6,176.5 952.6,176.5 953.2,176.4 954.6,176.1 956.6,175.6 958.6,175.1 960.6,174.7 960.8,174.7 962.6,174.5 964.6,174.3 966.6,174.2 968.6,174 970.6,173.9 972.6,173.9 974.6,173.9 976.6,173.9 978.3,173.9 980.6,174 982.6,174.3 984.6,174.6 986.6,174.9 988.6,175.3 990.6,175.7 992.6,176 994.6,176.2 996.6,176.4 998.4,176.4 1000.6,176.2 1002.6,175.8 1004.6,175.4 1006,175.2 1008.6,175.1 1010.6,175.1 1012.6,175.2 1014.6,175.3 1016.6,175.3 1018.6,175.3 1020,175.2 1022.6,174.8 1024.6,174.3 1026.6,173.8 1028.6,173.3 1030.6,172.9 1032.5,172.7 1034.6,172.7 1036.6,172.9 1038.6,173.1 1040.6,173.3 1042.6,173.6 1044.6,173.9 1045,174 1046.6,174.4 1048.6,175.1 1050,175.2 1052.6,174 1053.8,173.3 1056.6,171.4 1058.6,170.3 1058.8,170.2 1060.6,170 1062.6,170.2 1064.6,170.7 1066.3,170.8 1068.6,170.7 1070.6,170.6 1072.6,170.5 1074.6,170.4 1076.6,170.2 1078.6,169.9 1078.9,169.9 1080.6,169.4 1082.6,168.6 1083.9,168.3 1086.6,168.6 1088.6,169.1 1090.2,169.2 1092.6,168.9 1094.6,168.4 1096.6,167.9 1098.6,167.4 1100.6,166.9 1102.6,166.7 1102.7,166.7 1104.6,166.9 1106.6,167.3 1107.7,167.4 1110.6,166.7 1112.6,166 1114.6,165.5 1115.2,165.4 1116.6,165.3 1118.6,165.5 1120.6,165.8 1122.6,166.1 1124.6,166.2 1125.3,166.2 1126.6,165.9 1128.6,164.9 1130.6,163.8 1132.6,163 1133.4,162.9 1134.6,163.1 1136.6,163.8 1138.5,164.2 1140.6,164 1142.6,163.6 1144.6,163.4 1145.4,163.3 1146.6,163.3 1148.6,163.2 1150.6,163.2 1152.6,163.3 1152.9,163.3 1154.6,163.6 1156.6,164.3 1158.6,165 1160.4,165.2 1162.6,164.4 1164.6,162.9 1166.6,161.4 1168,160.8 1170.6,160.3 1171.5,160.3 1172.6,160.4 1174.6,160.7 1176.6,161 1178,161.2 1180.6,161.4 1182.6,161.5 1184.6,161.5 1185.7,161.4 1188.6,160.6 1190.6,159.8 1192.6,159 1193.2,158.9 1194.6,158.6 1196.6,158.3 1198.6,158.1 1200.6,157.9 1202.6,157.7 1204.6,157.6 1205.8,157.6 1208.6,157.8 1210.6,158.2 1212.6,158.6 1214.6,159.1 1216.6,159.5 1218.6,159.6 1219.6,159.6 1220.6,159.5 1222.6,158.9 1224.6,158.2 1226.6,157.5 1228.4,157.1 1230.6,157 1232.6,157 1234.6,157.1 1236.6,157.2 1238.6,157.3 1240.6,157.3 1242.6,157.2 1243.5,157.1 1244.6,156.9 1246.6,156.4 1248.6,155.8 1250.6,155.1 1252.6,154.5 1254.6,154 1256,153.8 1258.6,153.8 1260,153.8 1262.6,153.3 1264.6,152.8 1266.6,152.3 1267,152.3 1268.6,152.4 1270.6,152.9 1272.6,153.3 1273,153.3 1274.6,152.9 1276.6,152 1278.6,151.1 1280,151 1282.6,151.5 1284.6,152 1286,152.2 1288.6,152.5 1290.6,152.7 1292.6,152.9 1294.6,153 1295.2,153 1296.6,152.7 1296.7,152.7L1297.5,139.6L1304,139.6V376.4H63.4Z" fill="#c73e4c"/>
<path d="M63.4,175L70.1,175L70.6,186 72.6,185.7 74.6,185.3 75,185.2 76.6,184.9 78.6,184.3 80.6,183.7 82.6,183.1 84.6,182.6 86.4,182.2 88.6,182.5 90.6,183.5 92.6,185 94.6,186.5 96.6,187.5 97.7,187.7 100.6,187.1 102.6,186.3 104.6,185.5 106.4,185.2 108.6,185.6 110.6,186.4 112.6,187.3 114.6,188 116.5,188.2 118.6,187.1 120.6,185.2 122.6,184 122.8,184 124.6,184.3 126.6,185 128.6,185.8 130.3,186 132.6,185.7 134.6,185.2 136.6,184.8 137.8,184.7 140.6,185.3 142.6,186.2 144.6,187.2 146.6,187.9 148.6,188.2 149.1,188.2 150.6,187.9 152.6,187.3 154.6,186.5 156.6,185.6 158.6,184.6 160.6,183.8 162.6,183.3 162.9,183.2 164.6,183 166.6,182.9 168.6,182.9 170.5,182.7 172.6,181.5 174.6,180.3 175,180.2 176.6,181 178.6,183.6 180.6,186.5 182.6,188.2 183,188.2 184.6,188.1 186.6,187.9 188.6,187.7 190,187.6 192.6,187.4 194.6,187.3 195,187.3 196.6,187.1 198.6,186.6 200.6,186.3 201.3,186.2 202.6,186.5 204.6,187.8 206.6,189 207.5,189.3 208.6,189.4 210.6,189.6 212.6,189.7 213.8,189.7 216.6,189.5 218.6,189.2 220.6,189.1 222.6,189.1 224.6,189.8 226.6,190.8 227.6,191.1 228.6,191.3 230.6,191.6 232.6,192 234.6,192.5 236.6,193 238.3,193.3 240.6,192 242.6,189.6 244.6,187.5 245,187.3 246.6,186.6 248,186.2 250.6,185.5 252.6,185.1 254.6,184.8 256.6,184.7 257.1,184.7 258.6,185 260.6,185.9 262.6,187 264.6,187.9 265.9,188.2 268.6,188.5 270.6,188.7 272.6,188.9 274.6,189 276.6,189.1 278.6,189.2 280.6,189.2 282.6,189.1 284.6,189.1 286,189 288.6,188.6 290.6,188.1 292.6,187.7 294.6,187.3 296.6,187.2 297.3,187.2 298.6,187.4 300,187.7 302.6,188.1 304.6,188.4 306.6,188.7 308.6,189 310.6,189.3 312.6,189.6 314.6,189.8 316.6,190 318.6,190.1 320.6,190.2 322.6,190.2 324.6,190.1 326.6,189.8 328.6,189.4 330.6,188.8 332.6,188.2 334.6,187.6 336.6,186.9 337.7,186.5 338.6,186.2 340.6,185.4 342.6,184.7 344.6,183.9 346.6,183.1 347.7,182.7 348.6,182.4 350.6,181.7 352.6,181.2 354.6,180.7 356.6,180.4 358.6,180.2 359,180.2 360.6,180.7 362.6,182.4 364.6,184.2 365.8,184.7 368.6,184.8 370.6,184.6 372.6,184.5 374.6,184.6 375.3,184.7 376.6,185.1 378.6,185.8 380.6,186.6 382.6,187.1 382.9,187.2 384.6,187.5 386.6,187.7 388.6,187.9 390.6,188.1 392.6,188.3 394.6,188.4 396.6,188.6 398.6,188.8 400.4,189 402.6,189.5 404.6,190 406.6,190.7 408.6,191.2 410.5,191.5 412.6,191 414.6,189.7 416.6,188.3 418,187.7 420.6,187.6 422.6,188 424.6,188.3 425.5,188.2 426.6,187.7 428.6,185.4 430.6,182.8 432.6,181.4 434.6,182.5 436.6,185.5 438.6,188.9 440.6,191.5 441.9,192.2 444.6,191.4 446.6,190.3 448.6,189.7 449.4,189.7 450.6,190 452.6,191 454.6,192.2 456.6,193.4 458.6,194.3 460.6,194.8 460.7,194.8 462.6,194.3 464.6,193.4 465.7,193.2 466.6,193.3 468.6,193.9 470.6,195.1 472.6,196.4 474.6,197.5 476.6,198.2 477.8,198.3 480.6,196.1 482.6,193.7 484.5,192.7 486.6,193 488.6,193.7 490.6,194.5 492.6,195.1 494.6,195.3 496.6,195.1 498.6,195 500.6,194.8 502.6,194.6 504.6,194.4 506.6,194.2 508.4,194 510.6,193.7 512.6,193.4 514.6,193.1 516.6,192.8 518.6,192.5 520.6,192.2 521,192.2 522.6,192.5 524.6,193.7 526.6,195.1 528.5,195.8 530.6,195.4 532.6,194.4 534.6,193.3 536.6,192.6 537.3,192.5 538.6,192.7 540.6,193.5 542.6,194.5 544.6,195.5 546.6,195.9 546.8,195.9 548.6,195.2 550.6,193.6 552.6,192.5 553,192.5 554.6,192.7 556.6,193.3 558.6,194.2 560.6,195.2 562.6,196 564.6,196.5 565.1,196.5 566.6,196.2 568.6,195.4 570.6,195.1 571.4,195.3 572.6,195.9 574.6,197 576.6,198.1 578.6,199.3 580,200 582.6,201.3 584.6,202.3 586.6,203.3 588.6,204.2 590.2,204.8 592.6,204.8 594.6,204 596.6,202.8 598.6,201.8 600.3,201.5 602.6,202 604.6,202.8 606.6,203.6 608.6,204 609,204 610.6,203.7 612.6,203 614.6,202.4 615.3,202.3 616.6,202.3 618.6,202.4 620.6,202.6 622.6,202.8 624.6,203.2 626.6,203.7 627.9,204 630.6,205.2 632.6,206.5 634.6,207.6 636.6,208.3 636.7,208.3 638.6,208.4 640.6,208.2 642.6,207.8 644.6,207.4 646.6,206.9 648.6,206.6 650.5,206.6 652.6,206.9 654.6,207.3 656.6,207.7 658.6,208.1 660.6,208.3 661,208.3 662.6,208.2 664.6,207.7 666.6,207.2 668.6,206.8 670.6,206.6 672.6,206.7 674.6,206.9 676.6,207.2 678.6,207.5 680.6,207.8 682.6,208.3 684.6,209 686.6,209.8 688.6,210.4 690.6,210.8 691.9,210.8 694.6,210.5 696.6,210.1 698.6,209.6 700.6,209 702.6,208.5 704.6,208 705.7,207.8 708.6,207.3 710.6,207 712.6,206.7 714.6,206.4 716.6,206.2 718.6,205.9 719.5,205.8 720.6,205.8 722.6,206.6 724.6,207.6 726.6,208.1 728.3,207.8 730.6,206.4 732.6,205 734.6,203.5 736.6,202 738.3,200.8 740.6,199.3 742.6,197.9 744.6,196.6 746.6,195.4 748.6,194.4 749.6,194 750.6,193.8 752.6,194.1 754.6,195 756.6,196 758.4,196.5 760.6,196.5 762.6,196.4 764.6,196.3 766,196.5 768.6,197.3 770.6,198.2 772.6,199.2 774.6,200 776,200.5 778.6,201 780,200.8 782.6,199.8 784.6,198.8 786.6,197.7 788.6,196.6 788.8,196.5 790.6,195.3 792.6,193.8 794.6,192.7 796.6,193.6 798.6,196.3 800.6,198.7 801.3,199 802.6,199.3 804.6,199.5 806.6,199.7 808.6,199.9 810.6,200 812.6,200.3 814.6,200.7 815.1,200.8 816.6,201.3 818.6,202 820.6,202.8 822.6,203.7 824.6,204.4 826.6,205 827.7,205.3 830.6,205.4 832.6,205.2 834.6,204.7 836.6,204.3 838.6,204 840.3,204 842.6,204.6 844.6,205.6 846.6,206.7 848.6,207.5 850.6,207.8 850.8,207.8 852.6,207.4 854.6,206.5 856.6,205.4 858.6,204.5 860.3,204 862.6,203.6 864.6,203.2 866.6,202.9 868.6,202.7 870.6,202.7 872.6,202.8 872.9,202.8 874.6,203 876.6,203.3 878.6,203.6 880.6,203.9 882.6,204.3 884.6,204.6 885.5,204.8 886.6,205 888.6,205.5 890.6,206 892.6,206.5 894.6,206.9 896.6,207.3 896.7,207.3 898.6,207.1 900.6,206.1 902.6,205 904.6,204.1 905.5,204 906.6,203.9 908.6,203.9 910.6,203.8 912.6,203.9 914.6,203.9 916.6,204 916.8,204 918.6,204.1 920.6,204.3 922.6,204.6 924.6,204.9 926.6,205.2 928.6,205.5 930.6,205.7 932.6,205.8 933.2,205.8 934.6,205.6 936.6,204.9 938.6,204 940.6,203 942.6,202.4 943.2,202.3 944.6,202.3 946.6,202.4 948.6,202.7 950.6,203.1 952.6,203.3 954.6,203.4 955.8,203.3 958.6,202.8 960.6,202.4 962.6,202 964.6,201.6 965.8,201.5 968.6,201.2 970.6,201.1 972.6,201 974.6,200.9 976.6,200.8 978.3,200.8 980.6,200.8 982.6,201 984.6,201.1 986.6,201.3 988.6,201.6 990.6,201.8 992.6,202 994.6,202.2 996.6,202.3 998.4,202.3 1000.6,202.2 1002.6,201.9 1004.6,201.6 1006.6,201.3 1008.6,201 1010.6,200.8 1011,200.8 1012.6,200.8 1014.6,201 1016.6,201.3 1018.6,201.5 1020,201.5 1022.6,201.3 1024.6,200.8 1026.6,200.3 1028.6,199.7 1030.6,199.2 1032.6,198.7 1034.6,198.3 1035,198.3 1036.6,198.3 1038.6,198.7 1040.6,199.3 1042.6,200 1044.6,200.7 1046.6,201.3 1048.6,201.6 1050,201.5 1052.6,200.3 1054.6,198.9 1056.6,197.6 1057.7,197.3 1060.6,197 1062.6,196.9 1064.6,196.9 1066.6,196.9 1068.6,196.9 1070.6,196.9 1072.6,196.9 1074.6,196.8 1076.5,196.5 1078.6,196 1080.6,195.3 1082.6,194.6 1084.6,194.1 1085.3,194 1086.6,194 1088.6,194.5 1090.6,195.1 1092.6,195.3 1092.8,195.3 1094.6,195 1096.6,194.6 1098.6,194 1100.6,193.5 1102.6,193 1104.6,192.5 1106.6,192.2 1108.6,192 1110.6,191.9 1112.6,191.9 1114.6,191.9 1116.6,191.8 1118.6,191.7 1120.4,191.5 1122.6,191 1124.6,190.4 1126.6,189.7 1128.6,189.2 1130.5,189 1132.6,189.1 1134.6,189.2 1136.6,189.3 1138.6,189.4 1140.6,189.6 1142.6,189.7 1144.6,189.8 1145,189.8 1146.6,189.9 1148.6,189.9 1150.6,190 1152.6,190.1 1154.6,190.1 1156.6,190.2 1158.6,190.2 1160.6,190.2 1162.6,190 1164.6,189.4 1166.6,188.7 1168.6,188.1 1170.6,187.7 1172.6,187.6 1174.6,187.7 1176.6,187.8 1178.6,188 1180.6,188.1 1182.6,188.2 1184.6,188.2 1185.7,188.2 1188.6,187.9 1190.6,187.6 1192.6,187.2 1194.6,186.9 1196.6,186.5 1198.6,186.1 1200.6,185.7 1202.6,185.5 1204.6,185.3 1205.8,185.2 1208.6,185.3 1210.6,185.6 1212.6,186 1214.6,186.3 1216.6,186.5 1218.6,186.6 1219.6,186.5 1220.6,186.4 1222.6,186.2 1224.6,186 1226.6,185.8 1228.6,185.5 1230.6,185.3 1232.6,185.1 1234.6,184.9 1236,184.7 1238.6,184.4 1240.6,184.2 1242.6,183.9 1244.6,183.7 1246.6,183.5 1248,183.3 1250.6,183 1252.6,182.8 1254.6,182.7 1256.6,182.5 1258.6,182.3 1260,182.2 1262.6,182 1264.6,181.8 1266.6,181.7 1268.6,181.6 1270,181.5 1272.6,181.7 1274.6,182 1275,182 1276.6,181.8 1278.6,181.2 1280,181 1282.6,181.3 1284.6,181.8 1286.6,182.2 1288,182.3 1290.6,182.3 1292.6,182.2 1294.6,182.1 1295.2,182 1296.6,181.7 1296.7,181.7L1297.5,168.7L1304,168.7V376.4H63.4Z" fill="#ae305c"/>
<path d="M63.4,205L70.1,205L70.6,215 72.6,215 74.6,214.8 75,214.8 76.6,214.5 78.6,213.9 80.6,213.2 82.6,212.5 84.6,211.9 86.4,211.6 88.6,211.9 90.6,212.9 92.6,214.3 94.6,215.5 96.6,216.4 97.7,216.6 100.6,216.1 102.6,215.4 104.6,214.9 105.2,214.8 106.6,214.9 108.6,215.6 110.6,216.5 112.6,217.5 114.6,218.2 116.5,218.4 118.6,217 120.6,214.6 122.6,213.3 122.8,213.3 124.6,213.5 126.6,213.9 128.6,214.4 130.6,214.9 132.6,215.4 134.6,215.7 135.3,215.8 136.6,215.9 138.6,216.1 140.6,216.3 142.6,216.4 144.6,216.6 146.6,216.6 148.6,216.6 149.1,216.6 150.6,216.4 152.6,215.9 154.6,215.2 156.6,214.4 158.6,213.6 160.6,212.8 162.6,212.3 162.9,212.3 164.6,212.3 166.6,212.7 168.6,213.1 170.5,213.3 172.6,212.3 174.6,211 175.5,210.8 176.6,211.2 178.6,213 180.6,215.1 182.6,216.5 183,216.6 184.6,216.7 186.6,216.6 188.6,216.4 190.6,216.2 192.6,215.9 194.6,215.7 196.6,215.6 198.6,215.6 200.6,215.8 202.6,216.1 204.6,216.4 206.6,216.7 208.6,217 210.6,217.4 212.6,217.8 213.2,217.9 214.6,218.2 216.6,218.7 218.6,219.2 220.6,219.7 222.6,220.2 224.6,220.7 226.6,221.2 228.2,221.6 230.6,222.1 232.6,222.5 234.6,222.6 236.6,222.6 238.3,222.4 240.6,221.2 242.6,219.4 244.6,217.3 246.6,215.6 247,215.3 248.6,214.3 250.6,213.1 252.6,212.2 254.6,211.7 255.8,211.6 258.6,212.7 260.6,214.3 262.6,215.8 264.6,216.6 266.6,216.9 268.6,217.2 270.6,217.4 272.6,217.6 274.6,217.8 276.6,217.9 278.6,217.9 280.6,217.9 281,217.9 282.6,217.9 284.6,217.8 286.6,217.7 288.6,217.6 290.6,217.5 292.6,217.3 294.6,217 296.6,216.7 297.3,216.6 298.6,216.2 300,215.8 302.6,215.3 304.6,215 306.6,214.8 307.5,214.8 308.6,214.9 310.6,215.4 312.6,216.3 314.6,217.4 316.6,218.4 318.6,219.1 320.6,219.2 321.3,219.1 322.6,218.8 324.6,218.2 326.6,217.5 328.6,216.8 330.6,216.2 332.6,215.5 334.6,214.9 335.1,214.8 336.6,214.4 338.6,213.9 340.6,213.4 342.6,212.9 344.6,212.4 346.6,211.9 347.7,211.6 348.6,211.4 350.6,210.9 352.6,210.5 354.6,210.1 356.6,209.8 358.2,209.6 360.6,210.5 362.6,212.2 364.6,213.7 365.8,214.1 368.6,214.3 370.6,214.5 372.6,214.6 374.6,214.7 376.6,214.8 378.6,214.9 380.6,215.1 382.6,215.3 382.9,215.3 384.6,215.5 386.6,215.7 388.6,216 390.6,216.2 392.6,216.4 394.6,216.7 396.6,216.9 398.6,217.2 400.4,217.4 402.6,217.7 404.6,218.1 406.6,218.4 408.6,218.8 410.5,219.1 412.6,219.3 414.6,219.2 416.6,218.9 418.6,218.5 420.6,218 422.6,217.4 424.6,216.9 425.5,216.6 426.6,216 428.6,213.9 430.6,211.6 432.6,210.3 434.6,211.2 436.6,213.8 438.6,216.9 440.6,219.3 441.9,219.9 444.6,219.2 446.6,218.3 448.6,217.8 449.4,217.9 450.6,218.2 452.6,218.9 454.6,219.7 456.6,220.4 458.6,221.1 460.6,221.6 460.7,221.6 462.6,221.8 464.6,221.7 466.6,221.6 468.6,221.5 470.6,221.6 470.7,221.6 472.6,222.2 474.6,223.5 476.6,224.6 477.8,224.9 480.6,223.1 482.6,220.9 484.5,219.9 486.6,220.3 488.6,221.1 490.6,222 492.6,222.7 494.6,222.9 496.6,222.8 498.6,222.6 500.6,222.5 502.6,222.3 504.6,222.1 506.6,221.8 508.4,221.6 510.6,221.2 512.6,220.8 514.6,220.5 515,220.4 516.6,220.3 518.6,220.5 520.6,220.9 522.6,221.5 524.6,221.9 526.6,222.3 527.9,222.3 530.6,221.5 532.6,220.3 534.6,219.2 536.6,218.5 536.7,218.5 538.6,218.7 540.6,219.6 542.6,220.8 544.6,221.8 546.6,222.3 546.8,222.3 548.6,221.6 550.6,220 552.6,218.9 553,218.9 554.6,219.2 556.6,220.1 558.6,221.4 560.6,222.7 562.6,223.7 564.3,224 566.6,223 568.6,221.8 570.4,221.7 572.6,222.6 574.6,223.5 576.6,224.4 578.6,225.4 580,226 582.6,227.2 584.6,228.2 586.6,229.2 588.6,230.2 590.2,230.9 592.6,231 594.6,230 596.6,228.8 598.6,227.7 600.3,227.4 602.6,228.3 604.6,229.6 606.6,230.7 607.8,230.9 610.6,230.1 612.6,229.1 614.6,228.4 615.3,228.4 616.6,228.6 618.6,229.2 620.6,229.9 622.6,230.4 622.9,230.4 624.6,230.2 626.6,229.4 628.6,228.6 630.4,228.4 632.6,229.9 634.6,232.2 636.6,233.4 636.7,233.4 638.6,233.2 640.6,233 642.6,232.7 644.6,232.4 646.6,232.1 648.6,231.9 650.5,231.7 652.6,231.6 654.6,231.5 656.6,231.3 658.6,231.2 660.6,231.1 662.6,231 664.6,230.9 666.6,230.9 668.6,230.9 670.6,230.9 672.6,231 674.6,231.3 676.6,231.6 678.6,232 680.6,232.4 682.6,233 684.6,233.7 686.6,234.5 688.6,235.2 690.6,235.4 692.6,235.3 694.6,234.9 696.6,234.4 698.6,233.7 700.6,233.1 702.6,232.5 704.6,231.9 705.7,231.7 708.6,231.2 710.6,230.9 712.6,230.6 714.6,230.4 716.6,230.2 718.6,230 719.5,229.9 720.6,230 722.6,230.7 724.6,231.7 726.6,232.4 728.3,232.4 730.6,231.3 732.6,229.9 734.6,228.3 736.6,226.9 738.3,225.9 740.6,224.8 742.6,224 744.6,223.1 746.6,222.4 748.6,221.8 749.6,221.6 750.6,221.4 752.6,221.1 754.6,220.8 756.6,220.7 758.6,220.6 760.6,220.7 762.6,220.9 764.6,221.3 766,221.6 768.6,222.4 770.6,223.1 772.6,223.8 774.6,224.5 776,225 778.6,225.7 780,225.9 782.6,225.4 784.6,224.3 786.6,223 788.6,221.7 788.8,221.6 790.6,220 792.6,218.1 793.8,217.4 796.6,219.1 798.6,221.7 800.6,223.8 801.3,224.1 802.6,224.4 804.6,224.7 806.6,225.1 808.6,225.4 810.6,225.7 812.6,226 814.6,226.5 815.1,226.6 816.6,227 818.6,227.6 820.6,228.3 822.6,228.9 824.6,229.5 826.6,230.1 827.7,230.4 830.6,230.6 832.6,230.4 834.6,230 836.6,229.6 838.6,229.2 840.6,229.1 841.5,229.1 842.6,229.4 844.6,230.7 846.6,232.4 848.6,233.8 850.3,234.2 852.6,233.5 854.6,232.2 856.6,230.7 858.6,229.5 860.3,229.1 862.6,229 864.6,228.9 866.6,228.9 868.6,228.9 870.6,229 872.6,229.1 872.9,229.1 874.6,229.2 876.6,229.4 878.6,229.6 880.6,229.8 882.6,230 884.6,230.3 885.5,230.4 886.6,230.6 888.6,231.1 890.6,231.8 892.6,232.5 894.6,233.1 896.6,233.4 896.7,233.4 898.6,233.1 900.6,232.3 902.6,231.4 904.6,230.6 905.5,230.4 906.6,230.3 908.6,230.1 910.6,229.9 912.6,229.9 914.6,229.8 916.6,229.9 916.8,229.9 918.6,230.1 920.6,230.4 922.6,230.9 924.6,231.4 926.6,231.9 928.6,232.3 930.6,232.4 932.6,232.2 934.6,231.7 936.6,231 938.6,230.2 940.6,229.6 942.6,229.2 943.2,229.1 944.6,229.1 946.6,229.3 948.6,229.7 950.6,230.1 952.6,230.4 954.6,230.5 955.8,230.4 958.6,229.9 960.6,229.3 962.6,228.7 964.6,228.1 966.6,227.7 968.3,227.4 970.6,227.2 972.6,227 974.6,226.8 976.6,226.7 978.6,226.6 980.6,226.6 980.9,226.6 982.6,226.6 984.6,226.8 986.6,226.9 988.6,227.1 990.6,227.3 992.6,227.5 994.6,227.7 996.6,227.8 998.4,227.9 1000.6,227.8 1002.6,227.6 1004.6,227.3 1006.6,227 1008.6,226.8 1010.6,226.6 1011,226.6 1012.6,226.7 1014.6,227 1016.6,227.4 1018.6,227.8 1020,227.9 1022.6,227.6 1024.6,227 1026.6,226.2 1028.6,225.4 1030.6,224.6 1032.6,224.1 1034.6,223.9 1036.3,224.1 1038.6,224.7 1040.6,225.2 1041.3,225.4 1042.6,225.8 1044.6,226.4 1046.6,227 1048.6,227.5 1050,227.9 1052.6,227 1054.6,225.2 1056.6,223.5 1057.7,222.9 1060.6,222.1 1062.6,221.8 1064.6,221.6 1066.4,221.6 1068.6,222.1 1070.6,223 1072.6,223.8 1074,224.1 1076.6,223.6 1078.6,222.7 1080.6,221.5 1082.6,220.3 1084.6,219.4 1086.5,219.1 1088.6,219.8 1090.6,221 1092.6,221.6 1092.8,221.6 1094.6,221.2 1096.6,220.5 1098.6,219.6 1100.6,218.8 1102.6,218 1104.6,217.5 1105.4,217.4 1106.6,217.3 1108.6,217.2 1110.6,217.1 1112.6,217 1114.6,217 1116.6,216.9 1118.6,216.8 1120.4,216.6 1122.6,216.2 1124.6,215.8 1126.6,215.3 1128.6,215 1130.5,214.8 1132.6,214.8 1134.6,215 1136.6,215.3 1138.6,215.7 1140.6,216 1142.6,216.3 1144.6,216.5 1145.5,216.6 1146.6,216.7 1148.6,216.7 1150.6,216.8 1152.6,216.8 1154.6,216.8 1156.6,216.8 1158.6,216.7 1160.6,216.6 1162.6,216.3 1164.6,215.7 1166.6,215 1168.6,214.4 1170.6,214.1 1172.6,214.1 1174.6,214.3 1176.6,214.6 1178.6,214.9 1180.6,215.3 1182.6,215.6 1184.6,215.8 1185.7,215.8 1188.6,215.8 1190.6,215.7 1192.6,215.6 1194.6,215.4 1195.7,215.3 1198.6,214.6 1200.6,213.8 1202.6,213.1 1204.6,212.5 1205.8,212.3 1208.6,212.3 1210.6,212.5 1212.6,212.8 1214.6,213.1 1216.6,213.3 1218.6,213.4 1219.6,213.3 1220.6,213.2 1222.6,212.9 1224.6,212.6 1226.6,212.2 1228.6,211.9 1230.6,211.5 1232.6,211.2 1234.6,210.9 1236,210.8 1238.6,210.6 1240.6,210.4 1242.6,210.2 1244.6,210.1 1246.6,209.9 1248,209.8 1250.6,209.6 1252.6,209.5 1254.6,209.4 1256.6,209.3 1258.6,209.2 1260,209.1 1262.6,209.1 1264.6,209.1 1266.6,209.2 1268.6,209.2 1270,209.3 1272.6,209.6 1274.6,209.9 1276,210 1278.6,209.6 1280.6,209.1 1282,209 1284.6,209.4 1286.6,209.8 1288,210 1290.6,210.1 1292.6,210 1294.6,209.9 1295.2,209.8 1296.6,209.5 1296.7,209.5L1297.5,197L1304,197V376.4H63.4Z" fill="#a02a63"/>
<path d="M63.4,233L70.1,233L70.6,244 72.6,244.3 74.6,244.2 75,244.2 76.6,243.9 78.6,243.2 80.6,242.3 82.6,241.4 84.6,240.7 86.4,240.4 88.6,240.8 90.6,241.7 92.6,242.8 94.6,244 96.6,244.8 97.7,245 100.6,244.6 102.6,244 104.6,243.5 105.2,243.5 106.6,243.7 108.6,244.6 110.6,245.9 112.6,247.2 114.6,248.2 116.5,248.5 118.6,247 120.6,244.4 122.6,243 122.8,243 124.6,243.2 126.6,243.6 128.6,244.1 130.6,244.7 132.6,245.1 134.6,245.4 135.3,245.5 136.6,245.6 138.6,245.8 140.6,245.9 142.6,246 144.6,246.1 146.6,246.1 147.9,246 150.6,245.6 152.6,244.9 154.6,244.2 156.6,243.5 158.6,242.9 160.4,242.5 162.6,242.4 164.6,242.7 166.6,243.1 168.6,243.4 170.5,243.5 172.6,242.5 174.6,241.2 175.5,241 176.6,241.3 178.6,242.7 180.6,244.4 182.6,245.4 183,245.5 184.6,245.6 186.6,245.8 188.6,245.9 190.6,246 192.6,246.1 194.6,246.2 196.6,246.4 198.6,246.5 200.6,246.7 202.6,246.9 204.6,247.1 206.6,247.3 208.6,247.5 210.6,247.7 212.6,247.9 213.2,248 214.6,248.2 216.6,248.5 218.6,248.9 220.6,249.4 222.6,249.8 224.6,250.3 226.6,250.7 228.2,251 230.6,251.5 232.6,251.9 234.6,252.1 236.6,252 238.3,251.7 240.6,250.4 242.6,248.5 244.6,246.4 246.6,244.5 247,244.2 248.6,242.9 250.6,241.4 252.6,240.1 254.6,239.2 256.6,239.6 258.6,241.3 260.6,243.5 262.6,245.2 263.4,245.5 264.6,245.8 266.6,246.1 268.6,246.5 270.6,246.7 272.6,246.9 274.6,247 276.6,247 278.6,246.9 280.6,246.8 281,246.7 282.6,246.3 284.6,245.5 286.6,244.7 288.5,244.2 290.6,244.5 292.6,245.5 294.6,246.5 296.6,246.8 297.3,246.7 298.6,245.9 300,245 302.6,243.9 304.6,243.3 306.3,243 308.6,243.2 310.6,243.9 312.6,245 314.6,246.2 316.6,247.2 318.6,247.9 320.6,248.1 321.3,248 322.6,247.7 324.6,247 326.6,246.2 328.6,245.3 330.6,244.5 332.6,243.7 334.6,243.1 335.1,243 336.6,242.7 338.6,242.3 340.6,241.9 342.6,241.4 344.6,241 346.6,240.6 347.7,240.4 348.6,240.2 350.6,239.8 352.6,239.4 354.6,239 356.6,238.7 358.2,238.4 360.6,239.3 362.6,241 364.6,242.6 365.8,243 368.6,243.2 370.6,243.3 372.6,243.5 374.6,243.6 376.6,243.8 378.6,243.9 380.6,244 382.6,244.2 382.9,244.2 384.6,244.3 386.6,244.5 388.6,244.6 390.6,244.8 392.6,244.9 394.6,245.1 396.6,245.2 398.6,245.4 400.4,245.5 402.6,245.7 404.6,245.9 406.6,246.2 408.6,246.5 410.5,246.7 412.6,246.8 414.6,246.8 416.6,246.6 418.6,246.4 420.6,246 422.6,245.6 424.6,245.2 425.5,245 426.6,244.3 428.6,241.6 430.6,239 431.8,238.4 434.6,240.3 436.6,243 438.6,245.5 440.6,246.7 442.6,246.8 444.6,247 446.6,247.1 448.6,247.3 450.6,247.4 452.6,247.5 454.6,247.6 456.6,247.8 458.6,247.9 460.6,248 460.7,248 462.6,248.1 464.6,248.2 466.6,248.3 468.6,248.4 470.6,248.5 470.7,248.5 472.6,249 474.6,250.1 476.6,251.2 478.3,251.7 480.6,249.8 482.6,246.9 484.5,245.5 486.6,245.9 488.6,246.6 490.6,247.5 492.6,248.2 494.6,248.5 496.6,248.5 498.6,248.5 500.6,248.5 502.6,248.4 504.6,248.3 506.6,248.2 508.4,248 510.6,247.5 512.6,246.9 514.6,246.2 516.6,245.7 518.4,245.5 520.6,245.8 522.6,246.6 524.6,247.2 526,247.5 528.6,247.7 530.6,247.7 532.6,247.8 534.6,247.8 536.6,247.7 538.6,247.6 540,247.5 542.6,247.1 544.6,246.6 546.6,246 548.6,245.4 550.6,245.1 551.3,245 552.6,245 554.6,245.4 556.6,246.2 558.6,247.1 560.6,248 562.6,248.7 564.6,249.2 565.1,249.2 566.6,248.9 568.6,247.9 570.6,247.3 571.4,247.5 572.6,248 574.6,248.8 576.6,249.6 578.6,250.4 580,251 582.6,252.1 584.6,253 586.6,253.9 587.7,254.3 590.6,255.1 592.6,255.4 594.6,255.5 596.6,255.6 598.6,255.8 600,256 602.6,256.6 604.6,257.2 606.6,257.8 607.8,258 610.6,257.6 612.6,257 614.6,256.5 615,256.5 616.6,256.7 618.6,257.1 620.6,257.7 622.6,258 623,258 624.6,257.8 626.6,257.2 628.6,256.6 630,256.5 632.6,257.3 634.6,258.3 636.6,258.8 636.7,258.8 638.6,258.6 640.6,258 642.6,257.5 644.6,257.3 645,257.3 646.6,257.4 648.6,257.5 650.6,257.6 652.6,257.8 653,257.8 654.6,257.9 656.6,258.1 658.6,258.3 660.6,258.5 661,258.5 662.6,258.5 664.6,258.2 666.6,257.7 668.6,257.4 670,257.3 672.6,257.3 674.6,257.5 676.6,257.6 678.6,257.8 680,258 682.6,258.6 684.6,259.2 686.6,259.7 688.6,260 689.4,260 690.6,259.9 692.6,259.6 694.6,259.1 696.6,258.7 698.6,258.2 700,258 702.6,257.6 704.6,257.3 706.6,257 708.6,256.8 710.6,256.6 712,256.5 714.6,256.5 716.6,256.6 718.6,256.8 720.6,256.9 722,257 724.6,257.1 726.6,257 728.6,256.8 730,256.5 732.6,254.8 733.3,254.3 734.6,253.6 736.6,252.6 738.6,251.6 740.6,250.6 742.6,249.7 744.6,248.9 746.6,248.1 748.4,247.5 750.6,246.9 752.6,246.5 754.6,246.3 756.6,246.2 758.6,246.2 760.6,246.2 762.6,246.4 764.6,246.6 766,246.7 768.6,247.6 770.6,248.7 772.6,249.9 774.6,250.5 776,250.5 778.6,249.7 780,249.2 782.6,248.1 784.6,247.3 786.6,246.4 788.6,245.6 788.8,245.5 790.6,244.4 792.6,243.1 793.8,242.5 796.6,244.5 798.6,247.6 800.6,250.1 801.3,250.5 802.6,250.8 804.6,251.3 806.6,251.6 808.6,252 810.6,252.4 812.6,252.8 814.6,253.3 815.1,253.5 816.6,254 818.6,254.7 820.6,255.3 822,255.8 824.6,256.6 826.6,257.1 828.6,257.6 830.2,258 832.6,258.1 834.6,257.7 836.6,257 838.6,256.5 840.3,256.3 842.6,257.1 844.6,258.7 846.6,260.4 848.6,261.7 850.3,262 852.6,259.5 854.6,256.7 855.3,256.3 856.6,256.1 858.6,255.9 860.6,255.7 862.6,255.6 864.6,255.5 865,255.5 866.6,255.5 868.6,255.4 870.6,255.4 872.6,255.4 874.6,255.4 876.6,255.4 878,255.5 880.6,255.7 882.6,256 884.6,256.4 886.6,256.7 888,257 890.6,257.9 892.6,258.7 894.6,259.4 895.5,259.5 896.6,259.4 898.6,258.7 900.6,257.8 902.6,257.1 903,257 904.6,256.8 906.6,256.5 908.6,256.3 910.6,256.3 912.6,256.4 914.6,256.5 916.6,256.7 918.6,256.8 920.6,257 922.6,257.2 924.6,257.5 925,257.5 926.6,257.7 928.6,258.1 930.6,258.5 932.6,258.7 933.2,258.8 934.6,258.8 936.6,258.6 938.6,258.1 940.6,257.6 942.6,257.2 944.6,257 945,257 946.6,257 948.6,257.1 950.6,257.3 952.6,257.5 953,257.5 954.6,257.7 956.6,258.1 958.6,258.5 960.6,258.8 960.8,258.8 962.6,258.1 964.6,256.4 966.6,255.1 967,255 968.6,254.9 970.6,254.7 972.6,254.6 974.6,254.6 976.6,254.5 978.6,254.5 980,254.5 982.6,254.6 984.6,254.7 986.6,254.8 988.6,254.9 990.6,254.9 992.6,255 994.6,255 995,255 996.6,254.8 998.6,254.3 1000.6,253.7 1002.6,253 1004.6,252.6 1006,252.5 1008.6,252.6 1010.6,252.8 1011,252.8 1012.6,252.9 1014.6,252.9 1016.6,253 1018.6,253 1020,253 1022.6,252.8 1024.6,252.4 1026.6,251.8 1028.6,251.3 1030.6,250.8 1032.5,250.5 1034.6,250.5 1036.6,250.8 1038.6,251.4 1040.6,252.1 1042.6,252.8 1044.6,253.5 1046.6,254 1048.6,254.3 1050,254.3 1052.6,253.3 1054.6,251.7 1056.6,250 1058.6,248.6 1060.2,248 1062.6,248 1064.6,248.6 1066.6,249.3 1068.6,250 1070.6,250.5 1072.6,250.5 1072.7,250.5 1074.6,250 1076.6,249.1 1078.6,247.9 1080.6,246.7 1082.6,245.7 1084.6,245.1 1085.3,245 1086.6,245.2 1088.6,246.1 1090.6,247.1 1092.6,247.5 1092.8,247.5 1094.6,247 1096.6,246.3 1098.6,245.4 1100.6,244.4 1102.6,243.7 1104.6,243.1 1105.4,243 1106.6,242.9 1108.6,242.7 1110.6,242.5 1112.6,242.4 1114.6,242.2 1116.6,242.1 1118.6,241.9 1120.4,241.7 1122.6,241.4 1124.6,241.1 1126.6,240.8 1128.6,240.6 1130.5,240.4 1132.6,240.4 1134.6,240.7 1136.6,241.3 1138.6,241.9 1140.6,242.5 1142.6,243 1144.6,243.4 1145.5,243.5 1146.6,243.6 1148.6,243.6 1150.6,243.6 1152.6,243.6 1154.6,243.5 1156.6,243.4 1158.6,243.2 1160.6,243 1162.6,242.6 1164.6,241.9 1166.6,241.2 1168.6,240.6 1170.6,240.4 1172.6,240.6 1174.6,241.2 1176.6,241.9 1178.6,242.6 1180.6,243 1180.7,243 1182.6,243.2 1184.6,243.4 1186.6,243.6 1188.6,243.7 1190.6,243.7 1192.6,243.7 1194.6,243.6 1195.7,243.5 1198.6,242.8 1200.6,242.1 1202.6,241.3 1204.6,240.6 1206.6,240.1 1208.3,239.9 1210.6,239.9 1212.6,240 1214.6,240.1 1216.6,240.2 1218.6,240.3 1220.6,240.4 1220.8,240.4 1222.6,240.5 1224.6,240.7 1226.6,240.9 1228.4,241 1230.6,240.4 1232.6,239.3 1234.6,238.2 1236,237.9 1238.6,237.8 1240.6,237.7 1242.6,237.7 1243.4,237.7 1244.6,237.7 1246.6,237.7 1248.6,237.7 1250.6,237.7 1252.6,237.7 1254.6,237.7 1256.6,237.7 1258.6,237.7 1260,237.7 1262.6,238 1264.6,238.6 1266.6,239.3 1268.6,240 1270.6,240.6 1272.6,241 1273.5,241.1 1274.6,241 1276.6,240.3 1278.6,239.5 1280.2,239.1 1282.6,239.4 1284.6,240 1286.6,240.1 1286.9,240.1 1288.6,239.6 1290.6,238.7 1292.6,237.7 1294.6,236.9 1295.2,236.7 1296.6,236.5 1296.7,236.5L1297.5,225.7L1304,225.7V376.4H63.4Z" fill="#932667"/>
<path d="M63.4,261L70.1,261L70.6,273.1 72.6,273.7 74.6,273.8 75,273.8 76.6,273.5 78.6,272.8 80.6,271.9 82.6,271 84.6,270.3 86.4,270.1 88.6,270.6 90.6,271.4 92.6,272.3 94.6,273 95.1,273.1 96.6,273.2 98.6,273 100.6,272.8 102.6,272.6 103.9,272.6 106.6,273.5 108.6,274.9 110.6,276.5 112.6,278 114.6,279.2 116.5,279.6 118.6,277.5 120.6,274.4 121.5,273.8 122.6,273.6 124.6,273.5 126.6,273.7 128.6,274.1 130.6,274.7 131.6,275.1 132.6,275.6 134.6,277.2 136.6,278.9 138.6,280 139,280.1 140.6,280 142.6,279.1 144.6,277.8 146.6,276.5 148.6,275.7 149.1,275.6 150.6,275.9 152.6,276.9 154.1,277.1 156.6,275.3 158.6,273.2 160.4,272.1 162.6,272.1 164.6,272.6 166.6,273.3 168.6,273.8 170.5,273.8 172.6,272.7 174.6,271.1 176.6,270.6 176.7,270.6 178.6,271.5 180.6,273 182.6,274.5 184.3,275.6 186.6,276.8 188.6,277.7 190.6,278.4 192.6,278.8 193,278.9 194.6,278.2 196.6,276.4 198.1,275.6 200.6,275.7 202.6,275.9 204.6,276.3 206.6,276.8 208.6,277.2 210.6,277.5 212.6,277.6 213.2,277.6 214.6,277.4 216.6,276.7 218.6,276.3 219.4,276.3 220.6,276.5 222.6,277.4 224.6,278.6 226.6,279.9 228.6,281.1 230.6,282.1 230.7,282.1 232.6,282.7 234.6,283.2 236.6,283.2 238.3,282.6 240.6,280.7 242.6,278.3 244.6,275.8 246.6,273.5 247,273.1 248.6,271.7 250.6,270.2 252.6,269.1 253.8,268.8 256.6,270.9 258.6,273.7 260.6,275.5 260.9,275.6 262.6,275.7 264.6,275.5 266.6,275.2 268.6,274.8 270.6,274.6 272.6,274.5 273.4,274.6 274.6,274.8 276.6,275.4 278.6,276.2 280.6,276.8 282.2,277.1 284.6,276.1 286.6,274.6 288.5,273.8 290.6,275 292.6,276.9 294.6,277.6 294.7,277.6 296.6,276.6 298.6,275.4 300,274.6 302.6,273.3 304.6,272.7 305,272.6 306.6,273 308.6,274.5 310.6,276 311.3,276.3 312.6,276.8 314.6,277.4 316.6,277.9 318.6,278.2 320.6,278.2 321.3,278.1 322.6,277.7 324.6,276.6 326.6,275 328.6,273.5 330.6,272.4 331.4,272.1 332.6,272 334.6,272.1 336.6,272.2 337.7,272.1 338.6,271.8 340.6,270.8 342.6,269.6 344.6,268.8 344.7,268.8 346.6,269.6 348.6,271.3 350.2,272.1 352.6,271.5 354.6,270.3 356.6,269.5 357.7,269.6 358.6,270 360.6,271.4 362.6,273 364,273.8 366.6,274.7 368.6,275.4 370.6,275.8 372.6,276.2 374.6,276.4 376.6,276.4 377.8,276.3 380.6,274.8 382.6,273.2 384.1,272.6 386.6,272.8 388.6,273.5 390.6,274.3 392.6,275 394.2,275.1 396.6,274.1 397.9,273.8 400.6,275 402.6,276.5 404.6,277.5 405.5,277.6 406.6,277.5 408.6,277.3 410.6,276.9 412.6,276.5 414.6,276.1 416.6,275.8 418,275.6 420.6,275.5 422.6,275.6 424.6,275.6 425.5,275.6 426.6,274.8 428.6,271.3 430.6,267.8 431.8,267.1 434.6,270.7 436.6,274.7 438.1,276.3 440.6,277 442.6,277.3 444.4,277.1 446.6,276.2 448.6,274.9 450.6,273.8 452.6,273.1 453.2,273.1 454.6,273.4 456.6,274.4 458.6,275.5 460.6,276.3 460.7,276.3 462.6,276.5 464.6,276.6 466.6,276.4 468.6,276.3 470.6,276.2 472.6,276.2 473.2,276.3 474.6,277.1 476.6,279.1 478.3,280.1 480.6,277.5 482.6,273.9 483.8,273.1 486.6,273.8 488.6,274.8 490.6,275.7 492.6,276.3 493.3,276.3 494.6,276.2 496.6,275.9 498.6,275.6 500.6,275.3 502.6,275.1 503.4,275.1 504.6,275.2 506.6,275.8 508.6,276.6 510.6,277.1 510.9,277.1 512.6,276.2 514.6,274.3 515.9,273.8 518.6,275.5 520.6,277.4 522.2,278.1 524.6,278 526.6,277.6 528.5,277.1 530.6,275.9 532.6,274.4 534.6,273.2 536,273.1 538.6,274 540,274.6 542.6,275.9 544.6,276.9 546.3,277.6 548.6,276.6 550.6,274.4 552.6,273.1 554.6,273.4 556.6,274.2 558.6,275.2 560.6,276.3 562.6,277.2 564.6,277.6 565.1,277.6 566.6,277.2 568.6,276.1 570.6,275.4 571.4,275.6 572.6,276.1 574.6,277.2 576.6,278.2 578.6,279.3 580,280 582.6,281.2 584.6,282.1 586.6,283 588.6,283.7 589,283.9 590.6,284.1 592.6,283.3 594.6,282.1 596.6,280.8 598.6,280.1 599,280.1 600.6,280.6 602.6,282.2 604.6,284 606.6,285 607.3,285.1 608.6,284.6 610.6,283 612.6,281.2 614.1,280.6 616.6,280.8 618.6,281.4 620.6,281.9 622.6,282.1 622.9,282.1 624.6,281.6 626.6,280.5 628.6,279.6 629.1,279.6 630.6,280.1 632.6,281.9 634.6,283.9 636.6,285.1 636.7,285.1 638.6,285 640.6,284.2 642.6,283.2 644.6,282.2 646.6,281.5 648,281.4 650.6,282.7 652.6,284.1 654.2,284.6 656.6,283.1 658.6,281 660.5,280.1 662.6,280.4 664.6,281 666.6,281.7 668.6,282.3 670.6,282.6 672.6,282.5 674.6,282.2 676.6,282.1 676.8,282.1 678.6,282.5 680.6,283.4 682.6,284.7 684.6,286 686.6,287 688.6,287.6 689.4,287.6 690.6,287.4 692.6,286.7 694.6,285.7 696.6,284.6 698.6,283.7 700.6,283.1 700.7,283.1 702.6,283.1 704.6,283.2 706.6,283.2 707,283.1 708.6,282.6 710.6,281.6 712.6,280.8 713.2,280.6 714.6,280.4 716.6,280.3 718.6,280.5 719.5,280.6 720.6,280.9 722.6,282 724.6,283.2 726.6,283.9 727,283.9 728.6,283.6 730.6,282.8 732.6,281.7 734.6,280.3 736.6,279 738.6,277.9 740.6,277.1 740.8,277.1 742.6,276.8 744.6,276.7 746.6,276.7 748.6,276.7 750.6,276.7 752.6,276.5 753.4,276.3 754.6,275.8 756.6,274.6 758.4,273.8 760.6,274.2 762.6,275 763.5,275.1 764.6,274.8 766.6,273.7 768.5,273.1 770.6,274 772.6,275.8 774.6,277.7 776.6,278.9 777.3,278.9 778.6,278.7 780,278.1 782.6,276.6 784.6,275.5 786.6,274.3 787.5,273.8 788.6,273.1 790.6,271.6 792.6,270.3 793,270.1 794.6,270.6 796.6,273.7 798.6,277.7 800.6,280.9 801.3,281.4 802.6,282 804.6,282.8 806.6,283.6 808.6,284.4 810.6,285 812.6,285.6 814.6,286 816.6,286.4 818.6,286.7 820.2,287.1 822.6,288.5 824.6,290.3 826.6,291.8 827.7,292.2 830.6,292.2 832.6,291.6 834.6,290.9 836.5,290.1 838.6,288.8 840.6,287 842.6,285.7 842.8,285.6 844.6,287 846.6,291.5 848.6,295.9 850.3,297.2 852.6,294.9 854.6,291.7 856.6,288.9 857.8,288.1 860.6,287.7 862.6,287.6 864.6,287.3 865.4,287.1 866.6,286.5 868.6,285.1 870.6,283.8 872.6,283.1 872.9,283.1 874.6,283.2 876.6,283.6 878.6,284.1 880.6,284.7 882.6,285.4 884.6,286.1 885.5,286.4 886.6,286.8 888.6,287.7 890.6,288.7 892.6,289.7 894.6,290.4 895.5,290.7 896.6,290.6 898.6,289.4 900.6,287.6 902.6,286.5 903,286.4 904.6,286.5 906.6,287 908.6,287.4 910.6,287.6 912.6,287.1 914.6,286.5 916.6,286.4 916.8,286.4 918.6,286.9 920.6,287.6 922.6,288.3 924.4,288.9 926.6,289.6 928.6,290.2 930.6,290.7 932.6,291.3 933.2,291.4 934.6,291.4 936.6,290.5 938.6,289.1 940.6,287.7 942.6,287.1 943.2,287.1 944.6,287.3 946.6,287.8 948.6,288.5 950.6,289.2 952.6,289.9 953.2,290.1 954.6,290.7 956.6,291.8 958.6,293 960.6,293.8 960.8,293.9 962.6,292.7 964.6,289.1 966.6,286.5 967,286.4 968.6,286.4 970.6,286.8 972.6,287.3 974.6,287.6 975.8,287.6 978.6,287.1 980.6,286.7 982.6,286.2 984.6,285.7 986.6,285.2 988.6,284.9 990.6,284.6 990.9,284.6 992.6,284.6 994.6,285 996.6,285.6 998.6,286.1 1000.6,286.4 1001,286.4 1002.6,286 1004.6,284.7 1006.6,283.3 1008.5,282.6 1010.6,283.3 1012.6,284.8 1014.6,286.1 1016,286.4 1018.6,285.5 1020,285.1 1022.6,285.2 1024.6,285.6 1026.6,286.1 1028.6,286.4 1030,286.4 1032.6,284.2 1034.6,282.2 1035.1,282.1 1036.6,282.7 1038.6,284.4 1040.1,285.1 1042.6,284.5 1044.6,283.9 1045.1,283.9 1046.6,284.5 1048.6,286 1050.1,286.4 1052.6,283.6 1054.6,280 1056.4,278.1 1058.6,277.6 1060.6,277.4 1062.6,277.5 1064.6,277.9 1066.6,278.5 1067.7,278.9 1070.6,281.3 1072.6,283.2 1074,283.9 1076.6,282.9 1078.6,280.7 1080.6,278.1 1082.6,276.2 1084,275.6 1086.6,276.9 1088.6,278.8 1090.6,280.1 1091.6,280.1 1092.6,279.6 1094.6,277.4 1096.6,275.2 1097.8,274.6 1100.6,274.8 1102.6,275.4 1104.6,276 1106.6,276.4 1107.9,276.3 1110.6,275.2 1112.6,274 1114.6,272.6 1116.6,271.5 1118.6,270.7 1119.2,270.6 1120.6,270.9 1122.6,272.1 1124.6,273.1 1125.5,273.1 1126.6,272.8 1128.6,271.6 1130.6,270.5 1131.7,270.1 1134.6,269.8 1136.6,269.9 1138,270.1 1140.6,271.6 1142.6,273.1 1144.3,273.8 1146.6,273.4 1148.6,272.6 1150.6,272.1 1152.6,272.1 1154.6,272.3 1156.6,272.7 1158.6,273.1 1160.6,273.4 1162.6,273.7 1164.6,273.8 1165.6,273.8 1166.6,273.6 1168.6,272.5 1170.6,271.1 1172.6,270.2 1173.2,270.1 1174.6,270.4 1176.6,271.6 1178.6,273 1180.6,273.8 1180.7,273.8 1182.6,273.5 1184.6,272.6 1186.6,272.1 1187,272.1 1188.6,272.7 1190.6,274.1 1192.6,275.1 1193.2,275.1 1194.6,274.7 1196.6,273.9 1198.6,272.7 1200.6,271.6 1202.6,270.8 1203.3,270.6 1204.6,270.3 1206.6,269.9 1208.6,269.6 1210.6,269.3 1212.6,269.1 1214.6,269 1216.6,268.8 1218.6,268.8 1220.6,268.8 1220.8,268.8 1222.6,269.3 1224.6,270.4 1226.6,271.3 1227.1,271.3 1228.6,270.8 1230.6,269.1 1232.6,267.3 1234.6,266.3 1234.7,266.3 1236.6,266.4 1238.6,266.8 1240.6,267.3 1242.6,267.8 1244.6,268.1 1246,268.1 1248.6,267.8 1250.6,267.5 1252.6,267.1 1254.6,266.8 1256.6,266.5 1258.6,266.3 1260,266.3 1262.6,266.6 1264.6,267.1 1266.6,267.7 1267,267.8 1268.6,268.5 1270.6,269.8 1272.6,270.9 1273.5,271.2 1274.6,271.2 1276.6,270.5 1278.6,269.6 1280.2,269.2 1282.6,269.6 1284.6,270.1 1286.6,270.3 1286.9,270.2 1288.6,269.5 1290.6,268.4 1292.6,267.1 1294.6,266 1295.2,265.8 1296.6,265.5 1296.7,265.5L1297.5,255.1L1304,255.1V376.4H63.4Z" fill="#85216b"/>
<path d="M63.4,291L70.1,291L70.6,306.5 72.6,307.3 74.6,307.7 75,307.7 76.6,307.6 78.6,307 80.6,306.3 82.6,305.7 84.6,305.2 86.4,305.2 88.6,305.6 90.6,306.1 92.6,306.7 94.6,307.1 95.1,307.2 96.6,307.4 98.6,307.5 100.6,307.6 101.4,307.7 102.6,308 104.6,308.8 106.6,309.9 108.6,311.3 110.6,312.7 112.6,313.9 114.6,314.8 116.5,315.3 118.6,314.3 120.6,312.1 122.6,310.7 122.8,310.7 124.6,310.6 126.6,310.8 128.6,311.2 130.6,311.8 131.6,312.2 132.6,312.7 134.6,314.3 136.6,316 138.6,317.2 139,317.3 140.6,317.4 142.6,316.7 144.6,315.7 146.6,314.6 148.6,314 149.1,314 150.6,314.4 152.6,315.5 154.1,315.8 156.6,314 158.6,311.9 160.4,310.7 162.6,310.4 164.6,310.5 166.6,310.8 168.6,310.9 170.5,310.7 172.6,309 174.6,307.3 175.5,307.2 176.6,307.8 178.6,309.6 180.6,311.8 182.6,313.7 183,314 184.6,315.1 186.6,316.4 188.6,317.6 190.6,318.5 192.6,319 193,319 194.6,318.4 196.6,316.6 198.1,315.8 200.6,315.3 202.6,315.2 204.6,315.2 205.6,315.3 206.6,315.5 208.6,316.4 210.6,317.4 212.6,318.2 213.2,318.3 214.6,318 216.6,316.6 218.6,315.7 219.4,315.8 220.6,316.4 222.6,317.6 224.6,319 226.6,320.5 228.6,321.9 230.6,323.2 230.7,323.3 232.6,324.4 234.6,325.6 236.6,326.3 238.3,326.6 240.6,324.9 242.6,321.5 244.6,317.6 246.6,314.4 247,314 248.6,312.4 250.6,310.7 252.6,309.8 253.3,309.7 254.6,310.2 256.6,312.1 258.6,314.4 260.6,315.8 260.9,315.8 262.6,315.7 264.6,315.4 266.6,315 268.6,314.5 270.6,314.2 272.6,314 273.4,314 274.6,314.1 276.6,314.4 278.6,314.8 280.6,315.2 282.2,315.3 284.6,314.5 286.6,313.3 288.5,312.7 290.6,313.8 292.6,315.7 294.6,316.5 294.7,316.5 296.6,316 298.6,315.3 300,314.8 302.6,313.6 304.6,312.8 305,312.7 306.6,312.8 308.6,314 310.6,315.1 311.3,315.3 312.6,315.5 314.6,315.8 316.6,316 318.6,316.1 320.6,315.9 321.3,315.8 322.6,315.5 324.6,314.6 326.6,313.6 328.6,312.6 330.6,311.7 331.4,311.5 332.6,311.3 334.6,311.4 336.6,311.6 337.7,311.5 338.6,311.2 340.6,309.8 342.6,308.2 344,307.7 346.6,309.2 348.6,311.3 350.2,312.2 352.6,311.7 354.6,310.7 356.6,310.1 357.2,310.2 358.6,311 360.6,313.2 362.6,315.2 364,315.8 366.6,315.1 368.6,314.3 370.3,314 372.6,314.4 374.6,314.9 376.6,315.2 377.8,315.3 380.6,314.8 382.6,314.2 384.1,314 386.6,314.4 388.6,315.1 389.1,315.3 390.6,316.5 392.6,318.7 394.2,319.8 396.6,318.8 398.6,317.4 399.2,317.3 400.6,317.7 402.6,318.9 404.6,319.8 405.5,319.8 406.6,319.6 408.6,318.9 410.6,318 412.6,317 414.6,316 416.6,315.2 418,314.8 420.6,314.8 422.6,315.1 424.6,315.3 425.5,315.3 426.6,314.6 428.6,311.6 430.6,308.8 431.8,308.2 434.6,311.5 436.6,315.1 438.1,316.5 440.6,317.2 442.6,317.4 443.1,317.3 444.6,317 446.6,316.4 448.6,315.9 450.6,315.4 452.6,314.9 453.2,314.8 454.6,314.6 456.6,314.3 458.6,314 460.6,313.8 462.6,313.6 464.6,313.4 465.7,313.3 466.6,313.3 468.6,313.5 470.6,314 472.6,314.6 473.2,314.8 474.6,315.9 476.6,318.5 478.3,319.8 480.6,317.2 482.6,312.9 484.5,310.7 486.6,310.8 488.6,311.3 490.6,311.8 492.6,312.2 494.6,312.2 496.6,311.6 498.6,310.7 500.6,310 502.1,309.7 504.6,310.3 506.6,311.4 508.6,312.6 510.6,313.3 510.9,313.3 512.6,312.8 514.6,311.7 515.9,311.5 518.6,312.9 520.6,314.7 522.6,316.2 523.5,316.5 524.6,316.6 526.6,316 528.6,315 530.6,314 532.6,313.5 534.6,313.9 534.8,314 536.6,315.2 538.6,316.7 540,317.8 542.6,320.1 544.6,322 546.6,323.7 547,324 548.6,323.1 550.6,319 552.6,316.5 554.6,316.6 556.6,317 558.6,317.4 560.6,317.8 562.6,317.8 564.6,317.5 566.6,317.1 568.6,316.7 570.6,316.5 571.4,316.5 572.6,316.6 574.6,316.9 576.6,317.5 578.6,318.1 580.6,318.8 582.6,319.6 584.6,320.2 586.6,320.6 587.7,320.8 590.6,320.7 592.6,320.4 594.6,319.9 596.6,319.4 598.6,319.1 600.3,319 602.6,320.1 604.6,321.7 606.6,322.8 607.3,322.8 608.6,322.5 610.6,321.3 612.6,319.8 614.6,318.3 616.6,317 617.8,316.5 620.6,315.8 622.6,315.4 624.6,315.1 626.6,315 628.6,315.1 630.4,315.3 632.6,316.4 634.6,318 636.6,319 636.7,319 638.6,319 640.6,318.5 642.6,317.8 644.6,317.1 646.6,316.6 648,316.5 650.6,317.5 652.6,318.6 654.2,319 656.6,317.7 658.6,315.9 660.5,315.3 662.6,315.9 664.6,316.7 666.6,317.6 668.6,318.4 670.6,319 672.6,319.3 674.6,319.5 676.6,319.8 676.8,319.8 678.6,320.4 680.6,321.3 682.6,322.4 684.6,323.5 686.6,324.4 688.1,324.8 690.6,324.9 692.6,324.6 694.6,324 696.6,323.4 698.6,323 700.6,322.8 700.7,322.8 702.6,323.3 704.6,324.2 706.6,324.8 707,324.8 708.6,324.1 710.6,322.3 712.6,320.9 713.2,320.8 714.6,321 716.6,321.4 718.6,322 719.5,322.3 720.6,322.8 722.6,323.9 724.6,324.9 725.8,325.3 728.6,324.6 730.6,323 732.6,321.3 734.6,320.1 735.8,319.8 738.6,320.1 740.6,320.6 742.6,321.1 744.6,321.4 745.9,321.5 748.6,321.1 750.6,320.5 752.6,319.9 754.6,319.3 756.6,319 757.2,319 758.6,319.4 760.6,320.6 762.6,322 763.5,322.3 764.6,322.2 766.6,320.8 768.6,319.9 769.7,320.3 772.6,323.6 774.6,326.4 775,327 776.6,329.6 778.6,332.9 780,334.8 782.6,337.1 784.6,338.3 786.6,339.3 788.6,340.5 790,341.6 792.6,344 794.6,346 796.6,347.9 798.6,349.7 798.8,349.9 800.6,351.4 802.6,352.9 804.6,354.3 806.6,355.4 807.6,355.9 808.6,356.3 810.6,356.7 812.6,356.9 814.6,357.3 815.1,357.4 816.6,358 818.6,359.1 820.6,360.2 822.6,361 822.7,361 824.6,360.9 826.6,360.2 828.6,359.4 830.2,359.2 832.6,359.7 834.6,360.4 836.6,361.3 838.6,362.1 840.6,362.7 842.6,363 842.8,363 844.6,362.8 846.6,362.2 848.6,361.5 850.6,360.9 852.6,360.4 852.8,360.4 854.6,360.5 856.6,360.9 858.6,361.5 860.3,361.7 862.6,361 864.6,359.3 866.6,356.7 868.6,350.2 870.4,344.1 872.6,341.2 874.1,340.9 876.6,343.9 877.9,344.9 880.6,343 882.6,341.2 884.2,340.9 886.6,342.1 888.6,343.2 890.6,344.3 892.6,345.2 893,345.4 894.6,346 896.6,346.7 898.6,347.4 900.6,348.1 902.6,349 903,349.2 904.6,350.2 906.6,351.8 908.6,353.4 910.6,354.9 912.6,356.1 914.6,357.2 916.6,357.9 916.8,357.9 918.6,358.2 920.6,358.4 922.6,358.5 924.6,358.5 926.6,358.5 928.1,358.4 930.6,358.2 932.6,358 934.6,357.8 936.6,357.6 938.6,357.3 940.6,357.1 942.6,356.9 944.6,356.7 945.7,356.7 948.6,357.2 950.6,357.9 952.6,358.3 953.2,358.4 954.6,358.3 956.6,357.7 958.6,357.1 960.6,356.7 960.8,356.7 962.6,357.1 964.6,358 966.6,358.5 967,358.4 968.6,358 970.6,357.6 972.6,357.2 974.6,356.7 976.6,356.3 978.3,355.9 980.6,355.4 982.6,354.9 984.6,354.5 985.9,354.2 988.6,354 990.6,354.2 992.6,354.6 994.6,355.1 996.6,355.4 998.4,355.4 1000.6,354.2 1002.6,352.7 1003.5,352.4 1004.6,352.6 1006.6,354.1 1008.5,354.9 1010.6,354 1012.6,352.5 1014.6,351.2 1016,350.9 1018.6,351.9 1020,352.4 1022.6,352.4 1024.6,352.1 1026.6,351.8 1028.6,351.6 1030,351.7 1032.6,353.3 1034.6,355.1 1036.3,355.9 1038.6,355.5 1040.6,354.2 1042.6,352.6 1044.6,350.9 1046.6,349.6 1048.6,349.2 1048.9,349.2 1050.6,349.8 1052.6,350.9 1054.6,351.7 1055.1,351.7 1056.6,351.7 1058.6,351.6 1060.6,351.5 1062.6,351.3 1064.6,351 1065.2,350.9 1066.6,350.6 1068.6,350 1070.6,349.3 1072.6,348.7 1074,348.4 1076.6,349.1 1078.6,350.6 1080.6,352 1082.6,352.9 1082.8,352.9 1084.6,352.6 1086.6,351.4 1088.6,350.1 1090.6,349.3 1091.6,349.2 1092.6,349.4 1094.6,350.5 1096.6,351.9 1098.6,353 1100.3,353.4 1102.6,352.9 1104.6,352.2 1106.6,351.7 1108.6,351.9 1110.6,352.6 1112.6,353 1114.1,352.9 1116.6,351.7 1118.6,350.2 1120.6,348.4 1122.6,346.7 1124.6,345.3 1125.5,344.9 1126.6,344.5 1128.6,344.2 1130.6,343.8 1131.7,343.4 1134.6,341.4 1136.6,339.6 1138.6,337.9 1140.5,336.6 1142.6,335.8 1144.6,335.6 1146.6,335.3 1148,334.8 1150.6,331.8 1152.6,329.4 1153.1,329.1 1154.6,328.9 1156.6,329.5 1158.6,330 1159.3,329.8 1160.6,329.1 1162.6,327.6 1164.6,326.2 1165.6,325.8 1166.6,325.6 1168.6,325.4 1170.6,325.5 1172.6,325.7 1173.2,325.8 1174.6,326.3 1176.6,327.6 1178.2,328.3 1180.6,326.1 1182.6,322.2 1184.6,319 1185.7,318.3 1188.6,321.6 1190.6,323.3 1190.7,323.3 1192.6,322.3 1194.6,321.1 1196.6,319.8 1198.6,318.7 1199.5,318.3 1200.6,318 1202.6,317.5 1204.6,316.9 1205.8,316.5 1208.6,314.9 1210.6,313.5 1212.6,312.1 1214.6,310.8 1215.8,310.2 1218.6,309.7 1220.6,309.7 1220.8,309.7 1222.6,310.2 1224.6,311.3 1226.6,312.2 1227.1,312.2 1228.6,311.5 1230.6,309 1232.6,306.4 1234.6,305.2 1234.7,305.2 1236.6,305.6 1238.6,306.2 1240.6,307 1242.6,307.5 1243.5,307.7 1244.6,307.8 1246.6,308 1248.6,308.1 1250,308 1252.6,306.8 1254.6,305.4 1256.6,304.6 1257,304.6 1258.6,305 1260.6,305.9 1262.6,306.7 1263.5,307 1264.6,307.2 1266.6,307.5 1268.6,307.8 1270,308 1272.6,309.2 1274.6,310.2 1275.1,310.3 1276.6,310 1278.6,308.2 1280.6,306.4 1281.8,306 1284.6,307.6 1286.6,309.2 1288,309.5 1290.6,308.3 1292.6,307.1 1294.6,306.2 1295.2,306 1296.6,305.8 1296.7,305.8L1297.5,288.6L1304,288.6V376.4H63.4Z" fill="#781c6d"/>
<path d="M63.4,330L70.1,330L70.6,350.4 72.6,351 74.6,351.6 75,351.7 76.6,352.2 78.6,352.8 80.6,353.5 82.6,354.1 84.6,354.8 85.1,354.9 86.6,355.1 88.6,355 90.6,354.9 91.4,354.9 92.6,355.1 94.6,355.7 96.6,356.5 98.6,357.4 100.6,358.2 102.6,358.8 104.6,359.2 105,359.2 106.6,359.1 108.6,358.6 110.6,358 112.6,357.5 114,357.4 116.6,357.5 118.6,357.6 120.6,357.7 122.6,357.8 124.6,357.9 125.3,357.9 126.6,357.9 128.6,357.6 130.6,357.3 132.6,357 134.6,356.8 136.6,356.7 138.6,357.1 140.6,358 142.6,359.2 144.6,360.4 146.6,361.3 148.6,361.7 149,361.7 150.6,361.6 152.6,361.3 154.6,361.1 156.6,360.8 158.6,360.6 160.4,360.4 162.6,360.2 164.6,360.1 166.6,360 168,359.9 170.6,358.7 172.6,357.6 173.5,357.4 174.6,357.7 176.6,359.5 178.6,361.7 180.5,363 182.6,363.6 184.6,364.1 186.6,364.3 188,364.2 190.6,363.5 192.6,362.7 194.6,361.9 196.6,361.7 196.8,361.7 198.6,361.9 200.6,362.2 202.6,362.6 204.6,363 206.6,363.3 208.1,363.5 210.6,363.8 212.6,363.9 214.6,364.1 216.6,364.2 218.2,364.2 220.6,363.7 222.6,362.9 224.4,362.4 226.6,362.4 228.6,362.8 230.6,363.4 232.6,364 234.6,364.6 236.6,364.9 238.3,365 240.6,364.4 242.6,363.5 244.5,363 246.6,363.3 248.6,363.9 250.6,364.6 252.6,365 253.3,365 254.6,364.8 256.6,364.2 258.6,363.4 260.6,363 260.9,363 262.6,363.1 264.6,363.4 266.6,363.8 268.6,364.1 270.6,364.2 270.9,364.2 272.6,364 274.6,363.6 276.6,363.2 278.6,362.7 280.6,362.4 281,362.4 282.6,362.4 284.6,362.6 286.6,362.9 288.5,363 290.6,362.5 292.6,361.5 294.6,361 294.7,361 296.6,361.8 298.6,363.1 300,363.5 302.6,363.2 304.6,362.9 306.6,362.6 307.5,362.5 308.6,362.4 310.6,362.2 312.6,362.1 314.6,361.9 316.6,361.8 318.6,361.7 320.1,361.7 322.6,362.1 324.6,362.9 326.6,363.9 328.6,364.8 330.6,365.4 331.4,365.5 332.6,365.5 334.6,365 336.6,364.5 338.6,364.2 338.9,364.2 340.6,364.4 342.6,364.9 344,365 346.6,364.6 348.6,363.9 350.6,363.2 352.6,362.7 354,362.5 356.6,362.9 358.6,363.7 360.6,364.6 362.6,365.3 364.6,365.6 365.3,365.5 366.6,365.2 368.6,364.5 370.6,363.7 372.6,363 372.8,363 374.6,362.6 376.6,362.4 377.8,362.5 380.6,364.4 382.6,365.9 382.9,366 384.6,366.5 386.6,366.9 388.6,367.3 390.6,367.5 392.6,367.6 394.6,367.6 395.4,367.5 396.6,367.3 398.6,366.7 400.6,366 402.6,365.5 403,365.5 404.6,365.8 406.6,366.5 408,366.7 410.6,366.4 412.6,365.9 414.6,365.4 416.6,364.8 418.6,364.4 420.5,364.2 422.6,364.4 424.6,364.9 426.6,365.4 428.6,365.9 430.6,366 432.6,365.4 434.6,364.6 435.6,364.5 436.6,364.6 438.6,364.9 440.6,365.2 442.6,365.5 444.6,365.8 446.6,366.2 448.6,366.5 450.6,366.7 450.7,366.7 452.6,366.9 454.6,367.1 456.6,367.2 458.6,367.4 460.6,367.5 460.7,367.5 462.6,367.6 464.6,367.6 466.6,367.5 468.6,367.4 470.6,367.2 472.6,367 474.6,366.8 475.8,366.7 478.6,366.2 480.6,365.6 482.6,364.9 484.6,364.3 486.6,363.8 488.3,363.5 490.6,363.5 492.6,363.9 494.6,364.2 495.9,364.2 498.6,363.7 500.6,363.2 502.1,363 504.6,363.3 506.6,363.8 508.6,364.5 510.6,365.1 512.6,365.5 513.4,365.5 514.6,365.3 516.6,364.7 518.6,364.1 519.7,364.2 522.6,364.9 524.6,365.4 526.6,365.9 528.6,366.4 530,366.8 532.6,367.6 534.6,368.1 536,368.5 538.6,369 540.6,369.1 542.6,369.2 544.6,369.2 545,369.2 546.6,369.2 548.6,369.1 550.6,369.1 552.6,369 554.6,368.9 556.6,368.8 558.6,368.8 560.6,368.7 562.6,368.6 564.6,368.6 565,368.6 566.6,368.6 568.6,368.6 570.6,368.6 572.6,368.6 574.6,368.6 576.6,368.6 578.6,368.6 580,368.6 582.6,368.4 584.6,368.2 586.6,368 588.6,367.7 590,367.6 592.6,367.5 594.6,367.5 596.6,367.5 598.6,367.5 600.6,367.6 602.6,367.7 604.6,367.7 606.6,367.7 608.6,367.7 610.6,367.6 612,367.5 614.6,366.8 615.3,366.7 616.6,366.5 618.6,366.3 620.6,366.1 622.6,365.9 624.6,365.7 626.6,365.6 628.6,365.4 630.6,365.3 632.6,365.2 634.6,365 635.4,365 636.6,364.9 638.6,364.9 640.6,364.9 642.6,365 644.6,365 646.6,365 648,365 650.6,364 652.6,363.1 653.5,363 654.6,363.2 656.6,364 658.6,365 660.5,365.5 662.6,365.7 664.6,365.8 666.6,365.9 668.6,366 670.6,366 672.6,366 674.6,366 675.6,366 676.6,366 678.6,365.7 680.6,365.4 682.6,365.1 684.6,364.9 686.6,364.8 688.1,365 690.6,365.5 692.6,366.1 694.6,366.7 695,366.8 696.6,367.3 698.6,367.9 700.6,368.5 700.7,368.5 702.6,369 704.6,369.6 706.6,370.1 708.6,370.7 710,371 712.6,371.6 714.6,372.1 716.6,372.5 718.6,372.9 720.6,373.3 722.6,373.6 724.6,374 726.6,374.3 728.6,374.6 730.6,374.9 732.6,375.2 734.6,375.4 736.6,375.6 738.6,375.9 740,376 742.6,376.3 744.6,376.4 746.6,376.6 748.6,376.8 750.6,377 752.6,377.2 754.6,377.3 756.6,377.5 758.6,377.7 760.6,377.8 762.6,378 764.6,378.1 766.6,378.3 768.6,378.4 770.6,378.6 772.6,378.7 774.6,378.8 776.6,379 778.6,379.1 780.6,379.2 782.6,379.3 784.6,379.4 786.6,379.5 788.6,379.6 790.6,379.7 792.6,379.8 794.6,379.8 796.6,379.9 798.6,380 800,380 802.6,380.1 804.6,380.1 806.6,380.2 808.6,380.2 810.6,380.3 812.6,380.3 814.6,380.4 816.6,380.5 818.6,380.5 820.6,380.6 822.6,380.6 824.6,380.7 826.6,380.7 828.6,380.8 830.6,380.8 832.6,380.9 834.6,380.9 836.6,381 838.6,381 840.6,381.1 842.6,381.1 844.6,381.2 846.6,381.2 848.6,381.2 850.6,381.3 852.6,381.3 854.6,381.4 856.6,381.4 858.6,381.4 860.6,381.5 862.6,381.5 864.6,381.6 866.6,381.6 868.6,381.6 870.6,381.7 872.6,381.7 874.6,381.7 876.6,381.8 878.6,381.8 880.6,381.8 882.6,381.8 884.6,381.9 886.6,381.9 888.6,381.9 890.6,381.9 892.6,381.9 894.6,382 896.6,382 898.6,382 900,382 902.6,382 904.6,382 906.6,382 908.6,382 910.6,382.1 912.6,382.1 914.6,382.1 916.6,382.1 918.6,382.1 920.6,382.1 922.6,382.1 924.6,382.1 926.6,382.1 928.6,382.1 930.6,382.1 932.6,382.1 934.6,382.1 936.6,382.1 938.6,382.1 940.6,382.1 942.6,382.1 944.6,382.1 946.6,382.1 948.6,382.1 950.6,382.1 952.6,382.1 954.6,382.1 956.6,382.1 958.6,382.1 960.6,382.1 962.6,382.1 964.6,382.1 966.6,382.1 968.6,382.1 970.6,382.1 972.6,382.1 974.6,382.1 976.6,382.1 978.6,382.1 980.6,382.1 982.6,382.1 984.6,382.1 986.6,382.1 988.6,382.1 990.6,382 992.6,382 994.6,382 996.6,382 998.6,382 1000,382 1002.6,382 1004.6,382 1006.6,382 1008.6,381.9 1010.6,381.9 1012.6,381.9 1014.6,381.9 1016.6,381.9 1018.6,381.8 1020.6,381.8 1022.6,381.8 1024.6,381.8 1026.6,381.7 1028.6,381.7 1030.6,381.7 1032.6,381.6 1034.6,381.6 1036.6,381.6 1038.6,381.5 1040.6,381.5 1042.6,381.4 1044.6,381.4 1046.6,381.4 1048.6,381.3 1050.6,381.3 1052.6,381.2 1054.6,381.2 1056.6,381.1 1058.6,381.1 1060.6,381.1 1062.6,381 1064.6,381 1066.6,380.9 1068.6,380.9 1070.6,380.8 1072.6,380.8 1074.6,380.7 1076.6,380.6 1078.6,380.6 1080.6,380.5 1082.6,380.5 1084.6,380.4 1086.6,380.4 1088.6,380.3 1090.6,380.3 1092.6,380.2 1094.6,380.2 1096.6,380.1 1098.6,380 1100,380 1102.6,379.9 1104.6,379.8 1106.6,379.8 1108.6,379.7 1110.6,379.6 1112.6,379.5 1114.6,379.3 1116.6,379.2 1118.6,379.1 1120.6,378.9 1122.6,378.8 1124.6,378.6 1126.6,378.4 1128.6,378.3 1130.6,378.1 1132.6,377.9 1134.6,377.7 1136.6,377.5 1138.6,377.3 1140.6,377.1 1142.6,376.9 1144.6,376.6 1146.6,376.4 1148.6,376.2 1150,376 1152.6,375.7 1154.6,375.4 1156.6,375 1158.6,374.7 1160.6,374.3 1162.6,373.9 1164.6,373.5 1166.6,373 1168.6,372.6 1170.6,372.1 1172.6,371.6 1174.6,371.1 1175,371 1176.6,370.5 1178.6,369.9 1180.6,369.2 1182.6,368.6 1183,368.5 1184.6,368.1 1186.6,367.7 1188.6,367.4 1190.6,367.1 1192.6,366.8 1193,366.7 1194.6,366.5 1196.6,366.2 1198.6,366 1200.6,365.8 1202.6,365.6 1204.6,365.4 1206.6,365.3 1208.6,365.1 1210.6,365 1210.8,365 1212.6,365 1214.6,365.1 1216.6,365.3 1218.6,365.5 1220.6,365.5 1220.8,365.5 1222.6,365.2 1224.6,364.5 1226.6,363.8 1228.4,363.5 1230.6,363.5 1232.6,363.6 1234.6,363.9 1236.6,364.1 1238.6,364.3 1240.6,364.2 1240.9,364.2 1242.6,364 1244.6,363.7 1246.6,363.3 1248.6,363 1250,362.8 1252.6,362.7 1254.6,362.7 1256.6,362.7 1258.6,362.6 1260,362.5 1262.6,361.8 1263.5,361.5 1264.6,361 1266.6,359.9 1268.6,358.6 1270.6,357.5 1272.6,357 1273.5,357.1 1274.6,357.3 1276.6,357.8 1278.6,358.3 1280.6,358.8 1282.6,359.3 1283.5,359.5 1284.6,359.8 1286.6,360.2 1288.6,360.7 1290.6,361.2 1292.6,361.6 1294.6,362.1 1295.2,362.2 1296.6,362 1296.7,362L1297.5,348.8L1304,348.8V376.4H63.4Z" fill="#6a176e"/>
<path d="M839.8,39.3L842.5,41.3L845.2,39.3" fill="#f8850f"/>
</g>
<g font-family="'DejaVu Sans','Liberation Sans',sans-serif" font-weight="bold" font-size="13.33" text-anchor="middle" fill="#000">
<text x="775.3" y="78.7" dy="0.36em" transform="rotate(27 775.3 78.7)">298</text>
<text x="1013.6" y="113.4" dy="0.36em" transform="rotate(-4 1013.6 113.4)">296</text>
<text x="489.6" y="129.2" dy="0.36em" transform="rotate(-6 489.6 129.2)">294</text>
<text x="1066.5" y="163.6" dy="0.36em" transform="rotate(-8 1066.5 163.6)">292</text>
<text x="220.5" y="181" dy="0.36em" transform="rotate(8 220.5 181)">290</text>
<text x="534.4" y="214" dy="0.36em" transform="rotate(-1 534.4 214)">288</text>
<text x="222" y="238" dy="0.36em" transform="rotate(10 222 238)">286</text>
<text x="1219" y="263" dy="0.36em" transform="rotate(0 1219 263)">284</text>
<text x="569" y="310" dy="0.36em" transform="rotate(6 569 310)">282</text>
<text x="563" y="362" dy="0.36em" transform="rotate(0 563 362)">280</text>
</g>
<rect x="61.6" y="39.5" width="1244.0" height="370.0" fill="none" stroke="#000" stroke-width="1.33"/>
<path d="M268.9,409.5v5.83M476.3,409.5v5.83M683.6,409.5v5.83M890.9,409.5v5.83M1098.3,409.5v5.83M61.6,409.5v5.83M1305.6,409.5v5.83M61.6,409.5h-5.83M61.6,335.5h-5.83M61.6,261.5h-5.83M61.6,187.5h-5.83M61.6,113.5h-5.83M61.6,39.5h-5.83" stroke="#000" stroke-width="1.33" fill="none"/>
<g font-family="'DejaVu Sans','Liberation Sans',sans-serif" fill="#000">
<text x="268.3" y="435.9" font-size="20" text-anchor="middle">04:00</text>
<text x="475.7" y="435.9" font-size="20" text-anchor="middle">08:00</text>
<text x="683.0" y="435.9" font-size="20" text-anchor="middle">12:00</text>
<text x="890.3" y="435.9" font-size="20" text-anchor="middle">16:00</text>
<text x="1097.7" y="435.9" font-size="20" text-anchor="middle">20:00</text>
<text x="49.9" y="416.9" font-size="18.33" text-anchor="end">0</text>
<text x="49.9" y="342.9" font-size="18.33" text-anchor="end">1</text>
<text x="49.9" y="268.9" font-size="18.33" text-anchor="end">2</text>
<text x="49.9" y="194.9" font-size="18.33" text-anchor="end">3</text>
<text x="49.9" y="120.9" font-size="18.33" text-anchor="end">4</text>
<text x="49.9" y="46.9" font-size="18.33" text-anchor="end">5</text>
<text x="683.6" y="462.8" font-size="21.67" text-anchor="middle">Time (UTC)</text>
<text transform="translate(27 224.5) rotate(-90)" font-size="21.67" text-anchor="middle">Height a.s.l. (km)</text>
<text x="683.6" y="30" font-size="23.33" text-anchor="middle">Potential temperature</text>
<text x="80.4" y="33.5" font-size="21.67">munich, 17 Mar 2026</text>
<rect x="1334.7" y="380.70" width="12.7" height="11.80" fill="#000004"/>
<rect x="1334.7" y="369.50" width="12.7" height="11.80" fill="#040312"/>
<rect x="1334.7" y="358.30" width="12.7" height="11.80" fill="#0c0826"/>
<rect x="1334.7" y="347.10" width="12.7" height="11.80" fill="#160b39"/>
<rect x="1334.7" y="335.90" width="12.7" height="11.80" fill="#240c4f"/>
<rect x="1334.7" y="324.70" width="12.7" height="11.80" fill="#320a5e"/>
<rect x="1334.7" y="313.50" width="12.7" height="11.80" fill="#420a68"/>
<rect x="1334.7" y="302.30" width="12.7" height="11.80" fill="#4f0d6c"/>
<rect x="1334.7" y="291.10" width="12.7" height="11.80" fill="#5d126e"/>
<rect x="1334.7" y="279.90" width="12.7" height="11.80" fill="#6a176e"/>
<rect x="1334.7" y="268.70" width="12.7" height="11.80" fill="#781c6d"/>
<rect x="1334.7" y="257.50" width="12.7" height="11.80" fill="#85216b"/>
<rect x="1334.7" y="246.30" width="12.7" height="11.80" fill="#932667"/>
<rect x="1334.7" y="235.10" width="12.7" height="11.80" fill="#a02a63"/>
<rect x="1334.7" y="223.90" width="12.7" height="11.80" fill="#ae305c"/>
<rect x="1334.7" y="212.70" width="12.7" height="11.80" fill="#c73e4c"/>
<rect x="1334.7" y="201.50" width="12.7" height="11.80" fill="#d34743"/>
<rect x="1334.7" y="190.30" width="12.7" height="11.80" fill="#dd513a"/>
<rect x="1334.7" y="179.10" width="12.7" height="11.80" fill="#e65d2f"/>
<rect x="1334.7" y="167.90" width="12.7" height="11.80" fill="#ed6925"/>
<rect x="1334.7" y="156.70" width="12.7" height="11.80" fill="#f37819"/>
<rect x="1334.7" y="145.50" width="12.7" height="11.80" fill="#f8850f"/>
<rect x="1334.7" y="134.30" width="12.7" height="11.80" fill="#fb9606"/>
<rect x="1334.7" y="123.10" width="12.7" height="11.80" fill="#fca50a"/>
<rect x="1334.7" y="111.90" width="12.7" height="11.80" fill="#fbb61a"/>
<rect x="1334.7" y="100.70" width="12.7" height="11.80" fill="#fac62d"/>
<rect x="1334.7" y="89.50" width="12.7" height="11.80" fill="#f6d746"/>
<rect x="1334.7" y="78.30" width="12.7" height="11.80" fill="#f2e661"/>
<rect x="1334.7" y="67.10" width="12.7" height="11.80" fill="#f3f586"/>
<rect x="1334.7" y="55.90" width="12.7" height="11.80" fill="#fcffa4"/>
<path d="M1334.7,56.400000000000006L1341.0500000000002,39.9L1347.4,56.400000000000006Z" fill="#fcffa4"/>
<path d="M1334.7,392.0L1341.0500000000002,408.5L1347.4,392.0Z" fill="#000004"/>
<path d="M1334.7,56.2L1341.0500000000002,39.9L1347.4,56.2V392.2L1341.0500000000002,408.5L1334.7,392.2Z" fill="none" stroke="#000" stroke-width="1.33" stroke-linejoin="round"/>
<text x="1358.9" y="399.7" font-size="17.1" letter-spacing="-0.7">260</text>
<text x="1358.9" y="343.7" font-size="17.1" letter-spacing="-0.7">270</text>
<text x="1358.9" y="287.7" font-size="17.1" letter-spacing="-0.7">280</text>
<text x="1358.9" y="231.7" font-size="17.1" letter-spacing="-0.7">290</text>
<text x="1358.9" y="175.7" font-size="17.1" letter-spacing="-0.7">300</text>
<text x="1358.9" y="119.7" font-size="17.1" letter-spacing="-0.7">310</text>
<text x="1358.9" y="63.7" font-size="17.1" letter-spacing="-0.7">320</text>
<path d="M1347.4,392.2h5.83M1347.4,336.2h5.83M1347.4,280.2h5.83M1347.4,224.2h5.83M1347.4,168.2h5.83M1347.4,112.2h5.83M1347.4,56.2h5.83" stroke="#000" stroke-width="1.33" fill="none"/>
<text transform="translate(1415.1 227.8) rotate(-90)" font-size="21.67" text-anchor="middle">K</text>
</g>
</svg>
</body></html>
